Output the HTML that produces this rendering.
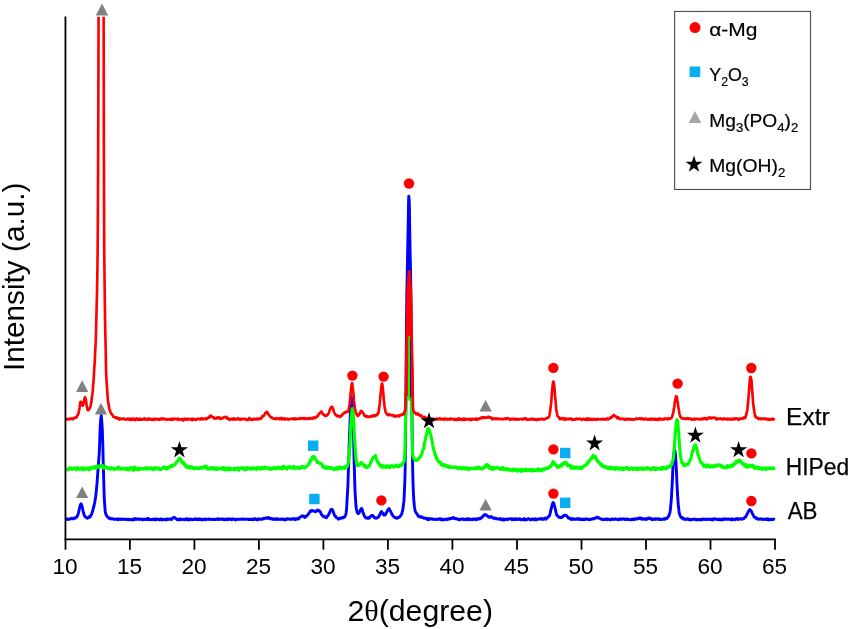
<!DOCTYPE html>
<html><head><meta charset="utf-8"><title>XRD patterns</title>
<style>html,body{margin:0;padding:0;background:#fff}svg{display:block}</style></head>
<body>
<svg width="851" height="629" viewBox="0 0 851 629">
<defs><clipPath id="c"><rect x="65.3" y="16.8" width="712" height="530"/></clipPath></defs>
<rect width="851" height="629" fill="#fff"/>
<g clip-path="url(#c)" fill="none" stroke-width="2.7" stroke-linejoin="round" stroke-linecap="round">
<polyline stroke="#0000ff" stroke-width="2.9" points="65.3,519.2 65.6,519.3 66.0,519.2 66.3,519.0 66.6,518.9 66.9,518.9 67.3,519.0 67.6,519.5 67.9,519.3 68.3,518.9 68.6,519.1 68.9,519.3 69.3,519.2 69.6,518.9 69.9,518.9 70.2,519.2 70.6,518.9 70.9,518.7 71.2,518.5 71.6,518.3 71.9,518.3 72.2,518.5 72.6,518.6 72.9,518.6 73.2,518.9 73.5,518.7 73.9,518.1 74.2,518.0 74.5,518.4 74.9,518.4 75.2,518.0 75.5,517.7 75.9,517.7 76.2,517.3 76.5,517.4 76.8,517.0 77.2,516.2 77.5,515.8 77.8,514.9 78.2,513.7 78.5,512.6 78.8,511.3 79.2,509.6 79.5,508.2 79.8,507.2 80.1,505.6 80.5,504.4 80.8,504.2 81.1,503.8 81.5,504.7 81.8,506.0 82.1,506.6 82.5,507.9 82.8,509.8 83.1,511.2 83.4,512.5 83.8,513.7 84.1,514.7 84.4,515.8 84.8,516.2 85.1,516.5 85.4,517.0 85.8,517.3 86.1,517.4 86.4,517.4 86.7,517.7 87.1,518.1 87.4,518.3 87.7,517.8 88.1,517.3 88.4,517.6 88.7,517.2 89.1,516.8 89.4,517.0 89.7,517.1 90.0,517.0 90.4,516.3 90.7,515.6 91.0,515.0 91.4,514.8 91.7,514.0 92.0,512.8 92.4,511.9 92.7,510.9 93.0,509.5 93.3,508.2 93.7,507.0 94.0,505.7 94.3,504.4 94.7,503.0 95.0,500.9 95.3,498.8 95.7,496.4 96.0,493.9 96.3,491.1 96.6,487.7 97.0,483.8 97.3,479.6 97.6,475.0 98.0,469.5 98.3,465.6 98.6,461.3 99.0,456.6 99.3,452.1 99.6,444.5 99.9,434.9 100.3,424.9 100.6,421.3 100.9,417.7 101.3,415.5 101.6,419.2 101.9,422.8 102.3,429.3 102.6,438.9 102.9,447.8 103.2,462.0 103.6,475.2 103.9,486.9 104.2,496.3 104.6,503.1 104.9,507.7 105.2,511.0 105.6,513.4 105.9,514.1 106.2,514.5 106.5,515.6 106.9,515.9 107.2,516.5 107.5,517.0 107.9,517.2 108.2,517.6 108.5,517.7 108.9,518.1 109.2,517.8 109.5,518.1 109.8,518.8 110.2,518.7 110.5,518.5 110.8,518.6 111.2,518.5 111.5,518.8 111.8,519.0 112.2,518.8 112.5,518.8 112.8,518.7 113.1,518.6 113.5,519.1 113.8,519.3 114.1,519.3 114.5,519.4 114.8,519.1 115.1,519.1 115.5,519.1 115.8,519.2 116.1,519.3 116.4,519.2 116.8,519.0 117.1,518.9 117.4,519.5 117.8,519.6 118.1,519.0 118.4,519.2 118.8,519.7 119.1,519.4 119.4,519.0 119.7,519.2 120.1,518.9 120.4,519.2 120.7,519.5 121.1,519.4 121.4,519.2 121.7,519.3 122.1,519.4 122.4,519.2 122.7,519.1 123.0,518.9 123.4,519.4 123.7,519.5 124.0,519.3 124.4,519.4 124.7,519.3 125.0,519.2 125.4,519.4 125.7,519.4 126.0,519.3 126.3,519.3 126.7,519.6 127.0,519.7 127.3,519.6 127.7,519.3 128.0,519.0 128.3,519.3 128.7,519.8 129.0,519.5 129.3,519.5 129.6,519.6 130.0,519.7 130.3,519.7 130.6,519.5 131.0,519.6 131.3,519.4 131.6,519.3 132.0,519.6 132.3,519.7 132.6,519.9 132.9,520.1 133.3,519.4 133.6,518.8 133.9,519.2 134.3,519.3 134.6,519.2 134.9,519.5 135.3,519.2 135.6,518.6 135.9,519.0 136.2,519.4 136.6,519.3 136.9,519.3 137.2,519.2 137.6,518.9 137.9,519.0 138.2,519.2 138.6,518.9 138.9,519.2 139.2,519.5 139.5,519.4 139.9,519.3 140.2,519.1 140.5,519.0 140.9,519.0 141.2,519.2 141.5,519.3 141.9,519.3 142.2,519.5 142.5,519.9 142.8,519.5 143.2,519.3 143.5,519.5 143.8,519.4 144.2,519.1 144.5,519.0 144.8,519.4 145.2,519.5 145.5,519.4 145.8,519.3 146.1,519.6 146.5,519.6 146.8,518.9 147.1,518.8 147.5,518.8 147.8,518.3 148.1,518.6 148.5,519.5 148.8,519.7 149.1,519.2 149.4,519.0 149.8,519.4 150.1,519.6 150.4,519.4 150.8,519.4 151.1,519.4 151.4,519.5 151.8,519.7 152.1,519.5 152.4,519.2 152.7,519.3 153.1,519.3 153.4,519.5 153.7,519.3 154.1,519.1 154.4,519.3 154.7,519.1 155.1,519.5 155.4,520.0 155.7,519.6 156.0,519.4 156.4,519.6 156.7,518.9 157.0,518.9 157.4,519.4 157.7,519.4 158.0,519.2 158.4,519.1 158.7,519.3 159.0,519.6 159.3,519.7 159.7,519.4 160.0,519.7 160.3,519.6 160.7,519.2 161.0,518.9 161.3,519.3 161.7,519.9 162.0,519.7 162.3,519.7 162.6,519.5 163.0,519.4 163.3,519.4 163.6,519.3 164.0,519.3 164.3,519.7 164.6,519.8 165.0,519.5 165.3,519.2 165.6,519.1 165.9,519.5 166.3,519.8 166.6,519.5 166.9,519.3 167.3,519.0 167.6,519.1 167.9,519.5 168.3,519.4 168.6,519.2 168.9,519.2 169.2,519.3 169.6,519.0 169.9,518.9 170.2,519.0 170.6,519.2 170.9,519.2 171.2,519.0 171.6,519.4 171.9,519.0 172.2,518.4 172.5,518.3 172.9,518.1 173.2,517.6 173.5,517.4 173.9,517.9 174.2,517.8 174.5,517.5 174.9,517.6 175.2,518.0 175.5,518.2 175.8,518.2 176.2,518.9 176.5,519.1 176.8,519.1 177.2,519.7 177.5,519.6 177.8,519.4 178.2,519.8 178.5,519.6 178.8,519.1 179.1,518.9 179.5,519.1 179.8,519.6 180.1,519.8 180.5,519.3 180.8,519.0 181.1,519.1 181.5,519.3 181.8,519.4 182.1,519.4 182.4,519.5 182.8,519.4 183.1,519.3 183.4,519.4 183.8,519.4 184.1,519.4 184.4,519.8 184.8,519.9 185.1,519.5 185.4,519.0 185.7,519.1 186.1,519.1 186.4,518.7 186.7,519.3 187.1,519.7 187.4,519.5 187.7,519.0 188.1,519.0 188.4,519.2 188.7,519.4 189.0,520.0 189.4,519.9 189.7,519.3 190.0,519.0 190.4,519.1 190.7,519.3 191.0,519.1 191.4,519.2 191.7,519.2 192.0,519.4 192.3,519.8 192.7,519.8 193.0,519.5 193.3,519.4 193.7,519.5 194.0,519.3 194.3,519.2 194.7,519.0 195.0,518.8 195.3,519.2 195.6,519.5 196.0,519.4 196.3,519.6 196.6,519.2 197.0,518.9 197.3,519.3 197.6,519.5 198.0,519.4 198.3,519.5 198.6,519.6 198.9,519.2 199.3,518.9 199.6,519.4 199.9,519.6 200.3,519.1 200.6,519.3 200.9,519.8 201.3,519.8 201.6,519.6 201.9,519.2 202.2,519.1 202.6,519.7 202.9,519.9 203.2,519.7 203.6,519.6 203.9,519.3 204.2,519.1 204.6,519.0 204.9,519.5 205.2,519.3 205.5,519.3 205.9,519.7 206.2,519.2 206.5,519.1 206.9,519.2 207.2,519.3 207.5,519.3 207.9,519.1 208.2,519.2 208.5,519.1 208.8,518.9 209.2,519.1 209.5,519.5 209.8,519.2 210.2,519.1 210.5,519.2 210.8,519.1 211.2,519.4 211.5,519.4 211.8,519.6 212.1,519.5 212.5,519.3 212.8,519.4 213.1,519.2 213.5,519.3 213.8,519.5 214.1,519.5 214.5,519.5 214.8,519.1 215.1,519.1 215.4,519.4 215.8,519.6 216.1,519.4 216.4,519.2 216.8,519.0 217.1,519.2 217.4,519.3 217.8,518.8 218.1,519.0 218.4,519.6 218.7,519.3 219.1,518.9 219.4,519.0 219.7,519.0 220.1,519.2 220.4,519.3 220.7,519.1 221.1,519.3 221.4,519.3 221.7,519.3 222.0,519.3 222.4,518.9 222.7,518.8 223.0,519.4 223.4,519.7 223.7,519.4 224.0,519.4 224.4,519.4 224.7,519.4 225.0,519.8 225.3,519.5 225.7,518.9 226.0,518.9 226.3,518.9 226.7,519.3 227.0,519.7 227.3,519.3 227.7,518.9 228.0,519.0 228.3,519.6 228.6,519.1 229.0,518.9 229.3,519.3 229.6,519.4 230.0,519.4 230.3,519.1 230.6,519.0 231.0,518.9 231.3,519.4 231.6,519.8 231.9,519.5 232.3,519.1 232.6,518.8 232.9,518.9 233.3,519.3 233.6,519.3 233.9,519.3 234.3,519.1 234.6,519.1 234.9,519.3 235.2,519.6 235.6,520.0 235.9,519.7 236.2,519.2 236.6,519.2 236.9,519.2 237.2,519.1 237.6,519.2 237.9,519.1 238.2,519.3 238.5,519.5 238.9,519.4 239.2,519.4 239.5,519.2 239.9,519.0 240.2,519.1 240.5,519.2 240.9,519.3 241.2,519.4 241.5,519.1 241.8,519.1 242.2,519.1 242.5,519.0 242.8,519.2 243.2,518.9 243.5,519.0 243.8,519.4 244.2,519.3 244.5,519.2 244.8,519.2 245.1,519.1 245.5,519.1 245.8,519.2 246.1,519.3 246.5,519.1 246.8,519.1 247.1,519.4 247.5,519.3 247.8,519.2 248.1,519.4 248.4,519.1 248.8,519.1 249.1,519.5 249.4,519.4 249.8,519.5 250.1,519.3 250.4,519.1 250.8,519.4 251.1,519.5 251.4,519.5 251.7,519.1 252.1,519.1 252.4,519.7 252.7,519.8 253.1,519.6 253.4,519.0 253.7,519.2 254.1,519.5 254.4,518.8 254.7,518.9 255.0,519.1 255.4,518.7 255.7,518.9 256.0,519.4 256.4,519.5 256.7,519.3 257.0,519.7 257.4,519.9 257.7,519.6 258.0,519.2 258.3,518.9 258.7,518.8 259.0,519.2 259.3,519.4 259.7,519.3 260.0,519.4 260.3,519.2 260.7,519.0 261.0,519.2 261.3,519.3 261.6,519.4 262.0,519.3 262.3,519.0 262.6,518.9 263.0,518.7 263.3,518.3 263.6,518.6 264.0,518.8 264.3,518.7 264.6,518.3 264.9,518.1 265.3,518.2 265.6,518.1 265.9,517.7 266.3,517.7 266.6,518.3 266.9,518.4 267.3,518.0 267.6,517.9 267.9,518.2 268.2,517.6 268.6,517.5 268.9,518.2 269.2,518.4 269.6,518.7 269.9,518.8 270.2,518.6 270.6,518.5 270.9,518.7 271.2,518.6 271.5,518.5 271.9,518.8 272.2,519.3 272.5,519.1 272.9,518.8 273.2,518.9 273.5,519.2 273.9,519.2 274.2,519.3 274.5,519.1 274.8,518.8 275.2,519.0 275.5,519.2 275.8,519.5 276.2,519.1 276.5,518.7 276.8,519.1 277.2,519.1 277.5,518.8 277.8,519.1 278.1,519.5 278.5,519.4 278.8,519.2 279.1,519.3 279.5,519.4 279.8,519.4 280.1,519.3 280.5,518.9 280.8,519.1 281.1,519.1 281.4,519.2 281.8,519.4 282.1,519.1 282.4,519.0 282.8,519.2 283.1,519.3 283.4,519.3 283.8,519.0 284.1,519.4 284.4,519.9 284.7,520.1 285.1,519.6 285.4,519.3 285.7,519.6 286.1,519.5 286.4,519.0 286.7,519.0 287.1,519.3 287.4,519.1 287.7,518.7 288.0,518.6 288.4,519.0 288.7,519.1 289.0,519.0 289.4,519.2 289.7,519.3 290.0,519.2 290.4,519.2 290.7,519.0 291.0,518.9 291.3,518.8 291.7,519.1 292.0,519.3 292.3,518.9 292.7,518.8 293.0,518.9 293.3,519.1 293.7,518.8 294.0,518.5 294.3,518.7 294.6,519.4 295.0,519.7 295.3,519.1 295.6,519.0 296.0,519.4 296.3,519.2 296.6,518.7 297.0,518.9 297.3,519.0 297.6,518.8 297.9,518.5 298.3,518.6 298.6,518.9 298.9,518.5 299.3,518.1 299.6,517.3 299.9,517.1 300.3,517.2 300.6,516.9 300.9,516.9 301.2,516.5 301.6,515.9 301.9,515.9 302.2,516.1 302.6,516.0 302.9,516.1 303.2,516.2 303.6,516.0 303.9,516.4 304.2,517.1 304.5,517.1 304.9,517.5 305.2,517.3 305.5,516.4 305.9,516.2 306.2,516.1 306.5,516.0 306.9,516.0 307.2,515.3 307.5,515.0 307.8,514.7 308.2,514.3 308.5,514.1 308.8,513.4 309.2,512.9 309.5,512.4 309.8,511.8 310.2,511.1 310.5,510.8 310.8,511.1 311.1,511.3 311.5,511.0 311.8,510.7 312.1,510.3 312.5,510.6 312.8,510.9 313.1,510.8 313.5,511.0 313.8,511.2 314.1,511.3 314.4,511.4 314.8,511.3 315.1,511.3 315.4,511.9 315.8,511.8 316.1,511.1 316.4,511.0 316.8,511.0 317.1,510.4 317.4,510.0 317.7,510.3 318.1,510.3 318.4,510.2 318.7,510.6 319.1,510.7 319.4,510.7 319.7,511.2 320.1,512.0 320.4,512.3 320.7,512.4 321.0,513.3 321.4,514.1 321.7,514.8 322.0,515.4 322.4,515.4 322.7,515.7 323.0,516.3 323.4,516.3 323.7,516.7 324.0,516.9 324.3,516.6 324.7,516.8 325.0,517.0 325.3,517.0 325.7,517.4 326.0,517.5 326.3,517.7 326.7,517.5 327.0,516.6 327.3,516.3 327.6,516.1 328.0,515.5 328.3,515.3 328.6,514.8 329.0,513.6 329.3,513.1 329.6,512.7 330.0,511.7 330.3,511.0 330.6,510.3 330.9,509.6 331.3,509.4 331.6,509.3 331.9,509.3 332.3,509.8 332.6,510.0 332.9,510.7 333.3,511.8 333.6,512.8 333.9,513.4 334.2,514.5 334.6,515.5 334.9,515.6 335.2,515.8 335.6,516.4 335.9,517.1 336.2,517.4 336.6,517.7 336.9,517.9 337.2,518.1 337.5,518.3 337.9,518.2 338.2,518.6 338.5,519.2 338.9,518.8 339.2,518.2 339.5,518.2 339.9,518.5 340.2,518.4 340.5,518.1 340.8,518.3 341.2,518.2 341.5,518.0 341.8,518.0 342.2,517.7 342.5,517.4 342.8,517.6 343.2,517.8 343.5,517.7 343.8,517.2 344.1,516.9 344.5,517.0 344.8,516.8 345.1,516.1 345.5,515.3 345.8,514.5 346.1,512.8 346.5,510.0 346.8,505.5 347.1,499.4 347.4,494.4 347.8,487.9 348.1,479.7 348.4,470.4 348.8,460.3 349.1,447.9 349.4,437.0 349.8,429.0 350.1,419.4 350.4,412.3 350.7,405.2 351.1,401.2 351.4,397.2 351.7,398.4 352.1,402.1 352.4,408.4 352.7,415.5 353.1,423.7 353.4,432.4 353.7,440.8 354.0,456.8 354.4,469.8 354.7,481.6 355.0,490.7 355.4,497.2 355.7,502.0 356.0,506.0 356.4,508.7 356.7,510.1 357.0,511.6 357.3,512.7 357.7,513.2 358.0,513.6 358.3,513.6 358.7,513.3 359.0,513.0 359.3,512.3 359.7,511.7 360.0,511.4 360.3,510.5 360.6,509.5 361.0,509.2 361.3,508.6 361.6,508.5 362.0,508.8 362.3,509.8 362.6,511.4 363.0,512.6 363.3,513.2 363.6,513.9 363.9,514.9 364.3,515.6 364.6,516.5 364.9,516.7 365.3,517.0 365.6,517.6 365.9,517.9 366.3,518.1 366.6,517.9 366.9,518.0 367.2,518.3 367.6,518.3 367.9,518.3 368.2,518.1 368.6,517.5 368.9,517.7 369.2,518.1 369.6,517.7 369.9,517.3 370.2,517.1 370.5,516.6 370.9,515.9 371.2,515.6 371.5,515.7 371.9,515.4 372.2,515.4 372.5,515.7 372.9,515.5 373.2,516.2 373.5,516.8 373.8,516.6 374.2,516.9 374.5,517.6 374.8,518.1 375.2,518.0 375.5,518.0 375.8,518.3 376.2,518.1 376.5,518.0 376.8,518.1 377.1,517.8 377.5,517.6 377.8,517.5 378.1,517.3 378.5,516.8 378.8,516.2 379.1,515.9 379.5,515.4 379.8,514.6 380.1,514.0 380.4,513.2 380.8,512.7 381.1,512.0 381.4,511.5 381.8,511.7 382.1,512.3 382.4,513.2 382.8,513.1 383.1,513.1 383.4,514.2 383.7,514.9 384.1,515.2 384.4,515.1 384.7,515.0 385.1,515.0 385.4,514.6 385.7,514.3 386.1,513.3 386.4,512.6 386.7,512.2 387.0,511.6 387.4,511.1 387.7,510.1 388.0,509.7 388.4,509.3 388.7,508.8 389.0,508.6 389.4,508.9 389.7,509.7 390.0,510.4 390.3,510.8 390.7,511.5 391.0,512.3 391.3,512.8 391.7,513.6 392.0,514.5 392.3,514.9 392.7,515.2 393.0,515.7 393.3,516.2 393.6,516.4 394.0,516.9 394.3,517.3 394.6,517.4 395.0,517.4 395.3,517.5 395.6,517.9 396.0,517.8 396.3,518.1 396.6,518.3 396.9,518.2 397.3,518.3 397.6,517.8 397.9,517.4 398.3,517.6 398.6,517.5 398.9,517.4 399.3,517.2 399.6,516.7 399.9,516.5 400.2,516.1 400.6,515.7 400.9,515.5 401.2,514.7 401.6,514.2 401.9,513.5 402.2,512.2 402.6,510.5 402.9,509.1 403.2,506.8 403.5,504.1 403.9,501.5 404.2,496.1 404.5,489.0 404.9,479.7 405.2,466.7 405.5,438.2 405.9,401.7 406.2,360.2 406.5,322.2 406.8,294.4 407.2,276.1 407.5,259.1 407.8,242.7 408.2,223.5 408.5,206.3 408.8,196.1 409.2,202.2 409.5,214.8 409.8,234.3 410.1,252.5 410.5,268.4 410.8,286.4 411.1,303.5 411.5,344.5 411.8,383.6 412.1,423.1 412.5,459.4 412.8,474.9 413.1,485.2 413.4,493.1 413.8,499.6 414.1,503.5 414.4,506.2 414.8,509.0 415.1,510.8 415.4,511.6 415.8,512.1 416.1,512.7 416.4,513.2 416.7,513.5 417.1,514.1 417.4,514.8 417.7,515.1 418.1,515.9 418.4,516.3 418.7,516.0 419.1,516.2 419.4,516.9 419.7,516.8 420.0,516.5 420.4,516.8 420.7,516.8 421.0,517.2 421.4,517.2 421.7,516.7 422.0,517.3 422.4,517.6 422.7,517.7 423.0,517.9 423.3,517.9 423.7,518.2 424.0,517.9 424.3,517.8 424.7,518.1 425.0,518.2 425.3,518.5 425.7,518.3 426.0,518.2 426.3,518.6 426.6,518.8 427.0,518.6 427.3,518.9 427.6,519.6 428.0,518.9 428.3,518.5 428.6,519.4 429.0,519.5 429.3,519.1 429.6,518.9 429.9,518.8 430.3,518.8 430.6,518.8 430.9,519.0 431.3,519.1 431.6,518.9 431.9,518.7 432.3,518.8 432.6,518.9 432.9,518.9 433.2,519.3 433.6,519.5 433.9,519.4 434.2,519.4 434.6,519.3 434.9,519.3 435.2,519.2 435.6,519.4 435.9,519.3 436.2,519.4 436.5,519.6 436.9,519.2 437.2,519.1 437.5,519.1 437.9,519.2 438.2,519.2 438.5,519.4 438.9,519.4 439.2,518.7 439.5,518.7 439.8,518.8 440.2,518.9 440.5,519.5 440.8,519.7 441.2,519.2 441.5,518.9 441.8,519.5 442.2,519.7 442.5,519.4 442.8,519.5 443.1,520.0 443.5,520.1 443.8,519.6 444.1,519.4 444.5,519.5 444.8,519.3 445.1,519.0 445.5,519.1 445.8,519.1 446.1,519.1 446.4,519.3 446.8,519.7 447.1,519.5 447.4,519.0 447.8,519.1 448.1,519.2 448.4,519.4 448.8,519.2 449.1,518.8 449.4,518.5 449.7,518.4 450.1,518.8 450.4,518.9 450.7,518.5 451.1,518.3 451.4,518.4 451.7,518.5 452.1,518.3 452.4,518.0 452.7,517.7 453.0,517.5 453.4,518.3 453.7,518.1 454.0,517.8 454.4,518.4 454.7,518.5 455.0,518.4 455.4,518.5 455.7,518.8 456.0,518.9 456.3,518.6 456.7,518.6 457.0,518.9 457.3,518.8 457.7,519.1 458.0,519.4 458.3,519.5 458.7,519.3 459.0,519.3 459.3,519.7 459.6,519.7 460.0,519.8 460.3,519.5 460.6,519.2 461.0,519.4 461.3,519.2 461.6,519.0 462.0,519.2 462.3,519.1 462.6,518.9 462.9,518.8 463.3,519.1 463.6,519.5 463.9,519.7 464.3,519.5 464.6,519.2 464.9,519.1 465.3,519.2 465.6,519.3 465.9,519.4 466.2,519.8 466.6,519.6 466.9,519.0 467.2,518.8 467.6,518.8 467.9,518.7 468.2,519.3 468.6,519.6 468.9,519.0 469.2,519.1 469.5,519.7 469.9,519.4 470.2,519.1 470.5,519.1 470.9,519.2 471.2,519.4 471.5,519.6 471.9,519.7 472.2,519.7 472.5,519.7 472.8,519.6 473.2,519.0 473.5,518.9 473.8,519.2 474.2,519.2 474.5,519.3 474.8,519.3 475.2,518.9 475.5,519.3 475.8,519.6 476.1,519.3 476.5,519.3 476.8,519.5 477.1,519.4 477.5,518.6 477.8,518.4 478.1,518.8 478.5,518.7 478.8,518.8 479.1,519.1 479.4,518.9 479.8,518.4 480.1,518.8 480.4,518.8 480.8,518.0 481.1,517.9 481.4,518.0 481.8,517.6 482.1,517.4 482.4,517.0 482.7,516.3 483.1,516.0 483.4,516.0 483.7,515.4 484.1,514.9 484.4,514.7 484.7,515.0 485.1,514.8 485.4,514.5 485.7,514.8 486.0,514.7 486.4,515.1 486.7,515.6 487.0,516.0 487.4,516.2 487.7,516.1 488.0,516.1 488.4,516.5 488.7,516.8 489.0,517.1 489.3,517.2 489.7,517.1 490.0,517.4 490.3,517.2 490.7,516.7 491.0,516.5 491.3,516.5 491.7,517.1 492.0,517.4 492.3,517.4 492.6,517.8 493.0,518.0 493.3,518.2 493.6,517.9 494.0,517.8 494.3,518.0 494.6,518.2 495.0,518.2 495.3,518.2 495.6,518.7 495.9,518.5 496.3,518.3 496.6,518.5 496.9,518.6 497.3,519.0 497.6,519.0 497.9,519.1 498.3,518.8 498.6,518.9 498.9,519.1 499.2,519.1 499.6,519.2 499.9,518.6 500.2,518.5 500.6,519.0 500.9,519.5 501.2,519.5 501.6,519.3 501.9,519.0 502.2,519.2 502.5,519.9 502.9,519.6 503.2,519.2 503.5,518.9 503.9,519.1 504.2,520.0 504.5,519.9 504.9,519.6 505.2,519.6 505.5,519.2 505.8,519.3 506.2,519.3 506.5,519.0 506.8,519.3 507.2,519.5 507.5,519.5 507.8,519.4 508.2,519.2 508.5,518.9 508.8,519.0 509.1,519.2 509.5,518.9 509.8,518.8 510.1,518.9 510.5,518.8 510.8,518.7 511.1,518.7 511.5,519.0 511.8,519.4 512.1,519.8 512.4,519.4 512.8,518.9 513.1,519.3 513.4,519.4 513.8,519.2 514.1,519.6 514.4,519.6 514.8,519.0 515.1,518.8 515.4,519.1 515.7,519.4 516.1,519.1 516.4,518.8 516.7,519.2 517.1,519.5 517.4,519.3 517.7,519.3 518.1,519.5 518.4,519.1 518.7,518.9 519.0,519.3 519.4,519.3 519.7,518.8 520.0,518.8 520.4,519.4 520.7,519.8 521.0,519.2 521.4,519.4 521.7,519.6 522.0,519.3 522.3,519.7 522.7,519.7 523.0,519.5 523.3,519.1 523.7,519.2 524.0,519.3 524.3,518.6 524.7,519.4 525.0,520.0 525.3,519.8 525.6,519.5 526.0,519.4 526.3,519.9 526.6,519.9 527.0,519.6 527.3,519.0 527.6,519.0 528.0,518.8 528.3,518.5 528.6,519.0 528.9,519.1 529.3,519.0 529.6,519.2 529.9,519.6 530.3,519.9 530.6,519.5 530.9,519.5 531.3,519.3 531.6,519.0 531.9,519.4 532.2,519.2 532.6,518.9 532.9,518.9 533.2,519.0 533.6,519.6 533.9,519.4 534.2,519.1 534.6,519.1 534.9,518.8 535.2,518.7 535.5,519.2 535.9,520.0 536.2,519.8 536.5,519.1 536.9,519.2 537.2,519.2 537.5,519.2 537.9,519.4 538.2,519.2 538.5,519.3 538.8,519.1 539.2,518.9 539.5,518.7 539.8,518.6 540.2,518.7 540.5,518.7 540.8,518.8 541.2,518.8 541.5,519.1 541.8,518.8 542.1,518.5 542.5,518.6 542.8,518.9 543.1,519.4 543.5,519.3 543.8,518.9 544.1,519.0 544.5,518.7 544.8,518.7 545.1,518.8 545.4,517.9 545.8,518.4 546.1,519.2 546.4,518.4 546.8,518.0 547.1,518.0 547.4,517.8 547.8,517.3 548.1,516.8 548.4,516.8 548.7,516.6 549.1,516.1 549.4,515.4 549.7,514.8 550.1,513.6 550.4,512.1 550.7,510.6 551.1,508.9 551.4,508.2 551.7,506.8 552.0,505.3 552.4,504.3 552.7,503.1 553.0,502.5 553.4,502.7 553.7,503.1 554.0,504.2 554.4,505.6 554.7,506.7 555.0,507.8 555.3,509.4 555.7,510.9 556.0,512.3 556.3,513.9 556.7,514.9 557.0,515.1 557.3,515.6 557.7,516.0 558.0,516.3 558.3,516.6 558.6,516.9 559.0,517.2 559.3,517.5 559.6,517.6 560.0,517.4 560.3,517.2 560.6,517.5 561.0,517.7 561.3,517.6 561.6,517.5 561.9,517.3 562.3,516.8 562.6,516.4 562.9,516.8 563.3,516.1 563.6,515.6 563.9,515.9 564.3,515.6 564.6,515.3 564.9,515.4 565.2,515.2 565.6,515.1 565.9,515.3 566.2,515.3 566.6,515.6 566.9,516.0 567.2,516.5 567.6,516.9 567.9,516.9 568.2,517.4 568.5,518.2 568.9,518.2 569.2,518.1 569.5,518.1 569.9,518.4 570.2,518.7 570.5,518.3 570.9,518.5 571.2,519.5 571.5,519.0 571.8,518.7 572.2,519.2 572.5,519.0 572.8,519.2 573.2,519.0 573.5,518.8 573.8,519.4 574.2,519.3 574.5,519.0 574.8,519.0 575.1,519.0 575.5,519.4 575.8,519.3 576.1,519.1 576.5,519.1 576.8,519.0 577.1,519.3 577.5,518.6 577.8,518.7 578.1,519.0 578.4,518.9 578.8,519.4 579.1,519.3 579.4,518.8 579.8,519.3 580.1,519.5 580.4,519.6 580.8,519.6 581.1,519.1 581.4,519.0 581.7,519.5 582.1,519.7 582.4,519.4 582.7,519.3 583.1,519.2 583.4,519.1 583.7,519.5 584.1,519.7 584.4,519.0 584.7,518.9 585.0,519.3 585.4,519.6 585.7,519.4 586.0,519.1 586.4,519.1 586.7,518.9 587.0,518.7 587.4,519.2 587.7,519.3 588.0,519.2 588.3,519.6 588.7,519.6 589.0,519.4 589.3,519.7 589.7,519.8 590.0,519.3 590.3,519.3 590.7,519.5 591.0,519.1 591.3,519.1 591.6,519.2 592.0,518.7 592.3,518.7 592.6,519.0 593.0,518.9 593.3,518.6 593.6,518.5 594.0,518.8 594.3,518.7 594.6,518.3 594.9,518.3 595.3,518.0 595.6,517.7 595.9,518.0 596.3,517.7 596.6,517.2 596.9,517.5 597.3,517.5 597.6,517.3 597.9,517.6 598.2,518.1 598.6,517.8 598.9,517.7 599.2,518.1 599.6,518.2 599.9,518.4 600.2,518.6 600.6,518.9 600.9,519.0 601.2,519.0 601.5,519.3 601.9,519.1 602.2,519.1 602.5,519.6 602.9,519.7 603.2,519.2 603.5,519.1 603.9,519.1 604.2,519.2 604.5,519.5 604.8,519.3 605.2,519.1 605.5,519.5 605.8,519.4 606.2,519.3 606.5,519.1 606.8,518.9 607.2,519.1 607.5,519.7 607.8,519.7 608.1,519.1 608.5,519.1 608.8,519.2 609.1,519.4 609.5,519.5 609.8,519.8 610.1,519.8 610.5,519.7 610.8,519.7 611.1,519.5 611.4,519.2 611.8,519.0 612.1,519.3 612.4,519.3 612.8,518.9 613.1,519.1 613.4,519.4 613.8,519.2 614.1,519.2 614.4,519.3 614.7,519.4 615.1,519.2 615.4,518.9 615.7,519.2 616.1,519.4 616.4,519.3 616.7,519.2 617.1,519.1 617.4,519.2 617.7,519.6 618.0,519.4 618.4,519.5 618.7,519.8 619.0,519.4 619.4,519.4 619.7,519.2 620.0,518.7 620.4,518.8 620.7,519.0 621.0,519.2 621.3,519.2 621.7,519.3 622.0,519.0 622.3,519.0 622.7,519.2 623.0,518.9 623.3,519.1 623.7,519.0 624.0,518.9 624.3,518.9 624.6,519.2 625.0,519.5 625.3,519.6 625.6,519.3 626.0,519.0 626.3,519.0 626.6,519.3 627.0,519.0 627.3,519.2 627.6,519.5 627.9,519.1 628.3,519.3 628.6,519.6 628.9,519.6 629.3,519.6 629.6,519.6 629.9,519.6 630.3,519.8 630.6,519.6 630.9,519.6 631.2,519.7 631.6,519.4 631.9,519.2 632.2,519.1 632.6,519.4 632.9,519.2 633.2,519.2 633.6,519.5 633.9,519.4 634.2,518.9 634.5,518.8 634.9,519.4 635.2,519.2 635.5,519.1 635.9,518.8 636.2,518.8 636.5,519.1 636.9,519.1 637.2,518.8 637.5,518.7 637.8,518.9 638.2,518.8 638.5,518.5 638.8,518.1 639.2,518.6 639.5,518.5 639.8,517.9 640.2,518.0 640.5,517.9 640.8,518.3 641.1,519.0 641.5,518.7 641.8,518.2 642.1,518.7 642.5,519.3 642.8,519.4 643.1,519.4 643.5,519.1 643.8,518.9 644.1,518.8 644.4,518.6 644.8,519.1 645.1,519.2 645.4,519.4 645.8,519.5 646.1,518.9 646.4,518.9 646.8,519.3 647.1,519.2 647.4,518.4 647.7,518.3 648.1,518.7 648.4,518.4 648.7,517.9 649.1,518.2 649.4,518.4 649.7,518.1 650.1,518.1 650.4,518.3 650.7,518.6 651.0,518.9 651.4,519.1 651.7,519.4 652.0,518.9 652.4,518.9 652.7,519.4 653.0,519.5 653.4,519.5 653.7,519.4 654.0,519.0 654.3,519.3 654.7,519.3 655.0,518.7 655.3,519.1 655.7,519.4 656.0,519.1 656.3,519.0 656.7,518.8 657.0,518.8 657.3,519.0 657.6,519.3 658.0,519.0 658.3,519.0 658.6,519.3 659.0,518.9 659.3,519.3 659.6,519.5 660.0,519.0 660.3,519.4 660.6,519.6 660.9,519.2 661.3,519.4 661.6,519.6 661.9,519.4 662.3,519.3 662.6,519.2 662.9,519.2 663.3,519.1 663.6,518.8 663.9,519.3 664.2,519.3 664.6,518.9 664.9,519.3 665.2,519.2 665.6,518.5 665.9,518.4 666.2,518.2 666.6,518.1 666.9,518.4 667.2,517.9 667.5,517.3 667.9,517.2 668.2,517.0 668.5,516.3 668.9,515.7 669.2,514.8 669.5,513.7 669.9,512.9 670.2,510.9 670.5,508.5 670.8,505.0 671.2,501.1 671.5,496.6 671.8,490.5 672.2,484.0 672.5,477.3 672.8,469.8 673.2,463.0 673.5,458.1 673.8,453.5 674.1,451.9 674.5,450.1 674.8,450.3 675.1,451.7 675.5,454.5 675.8,459.9 676.1,464.7 676.5,472.4 676.8,479.9 677.1,486.4 677.4,492.7 677.8,498.2 678.1,502.5 678.4,506.3 678.8,509.3 679.1,511.9 679.4,513.6 679.8,514.7 680.1,515.6 680.4,516.2 680.7,516.8 681.1,517.1 681.4,517.8 681.7,518.0 682.1,517.5 682.4,517.6 682.7,518.0 683.1,518.7 683.4,519.0 683.7,518.9 684.0,518.7 684.4,518.7 684.7,519.1 685.0,519.4 685.4,519.2 685.7,519.0 686.0,519.3 686.4,519.0 686.7,519.0 687.0,519.1 687.3,518.7 687.7,518.9 688.0,519.5 688.3,519.4 688.7,519.0 689.0,519.4 689.3,519.7 689.7,519.6 690.0,519.9 690.3,519.6 690.6,519.4 691.0,519.5 691.3,519.3 691.6,519.3 692.0,519.4 692.3,519.6 692.6,519.6 693.0,519.4 693.3,519.3 693.6,519.4 693.9,519.3 694.3,519.1 694.6,519.3 694.9,519.3 695.3,519.2 695.6,519.2 695.9,519.7 696.3,520.0 696.6,519.7 696.9,519.5 697.2,519.8 697.6,519.9 697.9,519.4 698.2,519.4 698.6,519.5 698.9,519.7 699.2,519.7 699.6,519.8 699.9,519.6 700.2,519.3 700.5,519.3 700.9,519.5 701.2,519.7 701.5,519.3 701.9,519.5 702.2,519.8 702.5,519.4 702.9,519.1 703.2,519.0 703.5,519.1 703.8,519.4 704.2,519.3 704.5,519.2 704.8,519.2 705.2,519.1 705.5,519.3 705.8,519.8 706.2,519.3 706.5,519.0 706.8,519.3 707.1,519.4 707.5,519.3 707.8,519.1 708.1,519.1 708.5,519.3 708.8,519.5 709.1,519.4 709.5,519.4 709.8,519.4 710.1,519.0 710.4,519.2 710.8,519.5 711.1,519.4 711.4,519.5 711.8,519.8 712.1,519.4 712.4,519.0 712.8,519.5 713.1,520.0 713.4,519.5 713.7,519.0 714.1,519.0 714.4,519.1 714.7,518.9 715.1,519.0 715.4,519.1 715.7,518.9 716.1,519.3 716.4,519.4 716.7,519.2 717.0,519.5 717.4,519.6 717.7,519.4 718.0,519.3 718.4,519.2 718.7,519.5 719.0,519.8 719.4,519.3 719.7,519.1 720.0,519.5 720.3,519.6 720.7,519.8 721.0,520.0 721.3,519.5 721.7,519.2 722.0,519.1 722.3,519.1 722.7,519.4 723.0,519.9 723.3,519.9 723.6,518.9 724.0,518.8 724.3,519.2 724.6,519.1 725.0,518.9 725.3,519.1 725.6,519.3 726.0,519.4 726.3,519.1 726.6,519.3 726.9,519.4 727.3,519.1 727.6,518.9 727.9,518.9 728.3,519.3 728.6,519.1 728.9,519.0 729.3,519.4 729.6,519.4 729.9,519.3 730.2,519.1 730.6,519.3 730.9,519.8 731.2,519.5 731.6,519.0 731.9,518.7 732.2,519.2 732.6,519.8 732.9,519.7 733.2,519.6 733.5,519.4 733.9,519.1 734.2,519.2 734.5,519.3 734.9,519.0 735.2,519.1 735.5,519.7 735.9,519.2 736.2,518.7 736.5,519.0 736.8,519.1 737.2,518.5 737.5,518.8 737.8,519.3 738.2,519.0 738.5,519.4 738.8,519.5 739.2,518.9 739.5,518.9 739.8,518.8 740.1,518.6 740.5,518.9 740.8,518.9 741.1,518.7 741.5,519.1 741.8,519.3 742.1,519.1 742.5,519.0 742.8,518.8 743.1,518.9 743.4,518.7 743.8,518.6 744.1,518.3 744.4,517.6 744.8,517.3 745.1,517.0 745.4,517.0 745.8,517.0 746.1,516.3 746.4,515.5 746.7,515.0 747.1,514.3 747.4,513.5 747.7,512.9 748.1,512.1 748.4,511.5 748.7,511.2 749.1,510.5 749.4,509.9 749.7,509.5 750.0,510.0 750.4,510.1 750.7,510.4 751.0,511.2 751.4,511.4 751.7,511.7 752.0,512.7 752.4,513.9 752.7,514.2 753.0,514.4 753.3,515.4 753.7,516.1 754.0,516.8 754.3,517.0 754.7,517.1 755.0,517.3 755.3,517.9 755.7,518.2 756.0,517.6 756.3,517.8 756.6,518.4 757.0,518.9 757.3,518.9 757.6,518.6 758.0,518.9 758.3,519.3 758.6,519.2 759.0,519.1 759.3,519.3 759.6,519.0 759.9,519.0 760.3,519.0 760.6,518.9 760.9,519.1 761.3,519.0 761.6,519.1 761.9,519.5 762.3,519.3 762.6,519.0 762.9,519.0 763.2,519.2 763.6,519.4 763.9,519.4 764.2,519.5 764.6,519.3 764.9,519.1 765.2,519.0 765.6,519.1 765.9,519.4 766.2,519.2 766.5,519.4 766.9,519.6 767.2,518.8 767.5,518.7 767.9,519.0 768.2,519.2 768.5,520.0 768.9,519.7 769.2,519.2 769.5,519.3 769.8,519.3 770.2,519.5 770.5,519.7 770.8,519.4 771.2,519.4 771.5,519.4 771.8,519.2 772.2,519.6 772.5,519.7 772.8,519.3 773.1,519.0 773.5,519.1 773.8,519.2"/>
<line x1="409" y1="199" x2="409" y2="347" stroke="#0000ff" stroke-width="2.6"/>
<polyline stroke="#00ff00" stroke-width="3.1" points="65.3,469.0 65.6,469.3 66.0,469.3 66.3,469.2 66.6,469.6 66.9,469.6 67.3,469.4 67.6,469.4 67.9,469.7 68.3,468.8 68.6,468.6 68.9,469.2 69.3,468.6 69.6,468.3 69.9,467.7 70.2,467.9 70.6,468.4 70.9,468.7 71.2,468.4 71.6,468.8 71.9,469.5 72.2,468.8 72.6,468.4 72.9,468.2 73.2,468.1 73.5,468.2 73.9,468.6 74.2,468.7 74.5,468.2 74.9,468.1 75.2,468.3 75.5,468.5 75.9,469.6 76.2,469.8 76.5,468.9 76.8,468.0 77.2,467.6 77.5,467.6 77.8,468.4 78.2,468.8 78.5,468.5 78.8,468.6 79.2,468.6 79.5,469.3 79.8,469.0 80.1,468.4 80.5,468.3 80.8,468.8 81.1,468.7 81.5,467.9 81.8,467.8 82.1,467.6 82.5,468.4 82.8,469.9 83.1,469.3 83.4,468.7 83.8,469.2 84.1,468.4 84.4,468.2 84.8,468.5 85.1,468.3 85.4,469.2 85.8,468.7 86.1,468.1 86.4,468.9 86.7,468.5 87.1,468.4 87.4,469.0 87.7,469.0 88.1,468.8 88.4,469.0 88.7,468.0 89.1,468.3 89.4,469.9 89.7,469.7 90.0,469.2 90.4,468.2 90.7,467.7 91.0,467.9 91.4,467.7 91.7,468.3 92.0,468.2 92.4,467.7 92.7,467.2 93.0,467.1 93.3,467.8 93.7,467.5 94.0,467.1 94.3,468.0 94.7,467.7 95.0,466.5 95.3,466.5 95.7,467.3 96.0,468.3 96.3,467.8 96.6,466.6 97.0,466.2 97.3,466.7 97.6,466.4 98.0,466.4 98.3,467.2 98.6,466.6 99.0,466.2 99.3,466.4 99.6,466.8 99.9,466.0 100.3,465.9 100.6,466.2 100.9,465.5 101.3,465.8 101.6,466.1 101.9,465.7 102.3,465.3 102.6,465.4 102.9,466.8 103.2,468.0 103.6,467.8 103.9,467.7 104.2,467.3 104.6,467.0 104.9,467.4 105.2,467.1 105.6,466.7 105.9,467.3 106.2,467.6 106.5,467.3 106.9,467.6 107.2,468.0 107.5,468.3 107.9,468.5 108.2,468.0 108.5,468.2 108.9,468.3 109.2,468.0 109.5,467.9 109.8,468.5 110.2,469.0 110.5,469.2 110.8,468.3 111.2,467.7 111.5,468.2 111.8,468.4 112.2,468.4 112.5,468.2 112.8,468.7 113.1,469.0 113.5,468.2 113.8,468.7 114.1,469.5 114.5,468.8 114.8,468.7 115.1,468.7 115.5,468.8 115.8,469.0 116.1,468.3 116.4,468.2 116.8,468.2 117.1,468.5 117.4,468.8 117.8,468.8 118.1,468.5 118.4,467.1 118.8,467.3 119.1,468.0 119.4,468.1 119.7,469.3 120.1,469.3 120.4,468.7 120.7,468.5 121.1,468.6 121.4,468.5 121.7,468.3 122.1,468.1 122.4,468.8 122.7,469.2 123.0,469.1 123.4,469.0 123.7,468.7 124.0,468.7 124.4,468.9 124.7,469.2 125.0,469.2 125.4,468.6 125.7,468.2 126.0,469.1 126.3,469.3 126.7,468.5 127.0,469.2 127.3,469.7 127.7,469.4 128.0,468.8 128.3,469.5 128.7,469.8 129.0,469.1 129.3,468.9 129.6,468.1 130.0,467.7 130.3,468.4 130.6,469.1 131.0,468.8 131.3,468.2 131.6,467.7 132.0,468.1 132.3,468.1 132.6,468.5 132.9,469.5 133.3,470.3 133.6,470.2 133.9,468.9 134.3,468.2 134.6,467.1 134.9,467.2 135.3,468.4 135.6,469.1 135.9,469.4 136.2,469.2 136.6,469.1 136.9,469.1 137.2,469.6 137.6,468.9 137.9,468.1 138.2,468.0 138.6,468.8 138.9,469.9 139.2,469.5 139.5,468.6 139.9,468.3 140.2,468.7 140.5,468.7 140.9,468.7 141.2,468.8 141.5,468.8 141.9,468.9 142.2,469.1 142.5,468.7 142.8,468.6 143.2,468.5 143.5,468.9 143.8,468.9 144.2,468.7 144.5,468.7 144.8,468.0 145.2,468.5 145.5,468.6 145.8,468.5 146.1,469.1 146.5,468.2 146.8,467.7 147.1,468.1 147.5,468.2 147.8,467.9 148.1,468.5 148.5,468.9 148.8,468.7 149.1,468.6 149.4,468.6 149.8,468.5 150.1,468.3 150.4,468.9 150.8,468.9 151.1,468.5 151.4,468.0 151.8,468.3 152.1,468.8 152.4,468.6 152.7,468.2 153.1,468.5 153.4,469.8 153.7,469.4 154.1,468.6 154.4,468.8 154.7,467.7 155.1,467.6 155.4,468.3 155.7,468.8 156.0,469.0 156.4,468.1 156.7,468.1 157.0,468.5 157.4,468.3 157.7,468.2 158.0,467.9 158.4,467.8 158.7,468.7 159.0,469.5 159.3,469.5 159.7,468.8 160.0,469.0 160.3,469.2 160.7,469.4 161.0,469.4 161.3,468.7 161.7,468.4 162.0,468.5 162.3,468.5 162.6,468.4 163.0,468.0 163.3,467.1 163.6,467.1 164.0,467.1 164.3,467.3 164.6,468.1 165.0,467.4 165.3,467.6 165.6,468.6 165.9,468.3 166.3,468.6 166.6,469.2 166.9,468.1 167.3,467.7 167.6,468.3 167.9,468.0 168.3,468.1 168.6,467.6 168.9,466.9 169.2,466.8 169.6,466.7 169.9,466.8 170.2,466.5 170.6,466.0 170.9,466.7 171.2,466.9 171.6,466.7 171.9,465.8 172.2,465.2 172.5,465.5 172.9,465.7 173.2,465.4 173.5,465.5 173.9,465.5 174.2,464.8 174.5,464.5 174.9,464.5 175.2,463.9 175.5,463.6 175.8,463.6 176.2,462.7 176.5,462.1 176.8,461.7 177.2,461.6 177.5,461.3 177.8,460.6 178.2,460.1 178.5,459.7 178.8,459.6 179.1,459.3 179.5,458.0 179.8,458.6 180.1,459.7 180.5,459.0 180.8,459.3 181.1,459.8 181.5,461.2 181.8,462.2 182.1,461.3 182.4,461.8 182.8,462.8 183.1,463.7 183.4,463.9 183.8,462.7 184.1,463.5 184.4,464.6 184.8,464.7 185.1,464.2 185.4,464.8 185.7,466.5 186.1,465.8 186.4,465.8 186.7,466.5 187.1,467.2 187.4,467.7 187.7,466.8 188.1,467.2 188.4,467.6 188.7,467.1 189.0,467.2 189.4,467.4 189.7,466.5 190.0,467.5 190.4,468.2 190.7,467.2 191.0,467.5 191.4,467.2 191.7,466.6 192.0,467.0 192.3,467.4 192.7,467.7 193.0,468.4 193.3,468.2 193.7,468.0 194.0,468.4 194.3,467.8 194.7,467.7 195.0,467.8 195.3,468.1 195.6,468.7 196.0,468.3 196.3,467.6 196.6,467.7 197.0,467.9 197.3,468.1 197.6,468.4 198.0,467.8 198.3,468.2 198.6,468.8 198.9,468.2 199.3,468.3 199.6,468.4 199.9,467.7 200.3,467.8 200.6,467.6 200.9,467.2 201.3,467.3 201.6,468.0 201.9,468.5 202.2,467.6 202.6,467.5 202.9,467.4 203.2,466.8 203.6,467.1 203.9,467.0 204.2,467.6 204.6,467.7 204.9,466.4 205.2,467.0 205.5,467.4 205.9,467.0 206.2,466.2 206.5,466.8 206.9,468.5 207.2,468.5 207.5,468.7 207.9,469.1 208.2,468.8 208.5,468.6 208.8,468.4 209.2,467.9 209.5,468.7 209.8,469.0 210.2,468.1 210.5,468.1 210.8,468.6 211.2,468.1 211.5,468.4 211.8,468.6 212.1,467.8 212.5,467.5 212.8,468.8 213.1,468.7 213.5,468.1 213.8,468.9 214.1,469.1 214.5,468.4 214.8,468.0 215.1,468.6 215.4,469.0 215.8,468.7 216.1,467.9 216.4,468.6 216.8,469.5 217.1,469.2 217.4,468.6 217.8,468.6 218.1,468.9 218.4,469.0 218.7,468.5 219.1,468.2 219.4,468.7 219.7,468.2 220.1,468.3 220.4,468.8 220.7,468.5 221.1,468.7 221.4,468.3 221.7,468.1 222.0,468.8 222.4,469.0 222.7,469.2 223.0,468.6 223.4,467.6 223.7,468.2 224.0,469.0 224.4,469.7 224.7,469.8 225.0,468.6 225.3,468.7 225.7,468.7 226.0,467.8 226.3,469.1 226.7,469.8 227.0,469.1 227.3,469.2 227.7,469.6 228.0,469.5 228.3,469.3 228.6,468.8 229.0,467.8 229.3,468.7 229.6,469.8 230.0,469.5 230.3,469.0 230.6,468.9 231.0,468.5 231.3,469.0 231.6,469.6 231.9,469.2 232.3,469.1 232.6,469.3 232.9,469.3 233.3,469.2 233.6,468.5 233.9,468.5 234.3,469.8 234.6,469.4 234.9,468.5 235.2,469.0 235.6,469.4 235.9,469.3 236.2,468.3 236.6,468.3 236.9,468.4 237.2,467.9 237.6,468.6 237.9,468.8 238.2,468.9 238.5,470.2 238.9,470.2 239.2,469.3 239.5,468.6 239.9,468.1 240.2,468.0 240.5,468.1 240.9,468.1 241.2,468.0 241.5,468.4 241.8,468.2 242.2,467.8 242.5,467.6 242.8,468.3 243.2,468.9 243.5,469.1 243.8,469.5 244.2,469.0 244.5,468.8 244.8,468.4 245.1,469.0 245.5,470.0 245.8,469.1 246.1,468.1 246.5,468.4 246.8,468.1 247.1,467.6 247.5,468.7 247.8,469.0 248.1,468.5 248.4,468.8 248.8,468.6 249.1,468.4 249.4,468.6 249.8,468.1 250.1,468.5 250.4,468.4 250.8,469.0 251.1,469.2 251.4,469.2 251.7,469.0 252.1,468.4 252.4,468.4 252.7,467.6 253.1,468.2 253.4,468.9 253.7,468.4 254.1,468.6 254.4,468.8 254.7,468.3 255.0,468.8 255.4,469.0 255.7,468.1 256.0,468.5 256.4,469.4 256.7,468.6 257.0,468.0 257.4,467.5 257.7,467.4 258.0,468.2 258.3,468.6 258.7,468.0 259.0,467.9 259.3,468.9 259.7,469.0 260.0,468.2 260.3,468.8 260.7,469.2 261.0,468.7 261.3,468.3 261.6,467.6 262.0,467.4 262.3,467.8 262.6,468.2 263.0,468.5 263.3,468.8 263.6,468.7 264.0,468.6 264.3,468.1 264.6,467.2 264.9,467.4 265.3,467.8 265.6,467.8 265.9,468.0 266.3,467.8 266.6,467.5 266.9,467.9 267.3,468.4 267.6,468.1 267.9,468.3 268.2,468.4 268.6,467.8 268.9,467.9 269.2,469.0 269.6,468.8 269.9,468.5 270.2,469.3 270.6,469.4 270.9,468.5 271.2,468.7 271.5,469.1 271.9,468.2 272.2,468.0 272.5,468.3 272.9,468.4 273.2,468.1 273.5,468.6 273.9,468.4 274.2,467.4 274.5,468.0 274.8,468.7 275.2,468.8 275.5,468.1 275.8,468.1 276.2,468.7 276.5,468.9 276.8,468.2 277.2,467.6 277.5,468.0 277.8,467.3 278.1,467.1 278.5,468.1 278.8,468.2 279.1,467.5 279.5,468.0 279.8,468.7 280.1,468.7 280.5,468.0 280.8,467.6 281.1,468.3 281.4,468.0 281.8,467.3 282.1,467.9 282.4,468.8 282.8,468.0 283.1,466.4 283.4,466.2 283.8,466.8 284.1,467.3 284.4,468.0 284.7,467.9 285.1,467.4 285.4,467.5 285.7,467.4 286.1,467.3 286.4,467.4 286.7,468.5 287.1,469.1 287.4,467.7 287.7,467.0 288.0,467.1 288.4,466.9 288.7,466.7 289.0,467.1 289.4,467.7 289.7,467.8 290.0,467.2 290.4,466.8 290.7,466.7 291.0,467.1 291.3,467.5 291.7,468.0 292.0,467.8 292.3,467.8 292.7,468.1 293.0,467.7 293.3,466.8 293.7,466.3 294.0,467.4 294.3,468.4 294.6,468.2 295.0,468.0 295.3,467.7 295.6,467.3 296.0,467.2 296.3,467.7 296.6,468.1 297.0,467.6 297.3,467.4 297.6,467.7 297.9,467.9 298.3,467.4 298.6,467.9 298.9,468.3 299.3,467.6 299.6,468.1 299.9,468.5 300.3,467.9 300.6,467.7 300.9,467.3 301.2,466.8 301.6,466.3 301.9,467.0 302.2,467.1 302.6,466.9 302.9,467.3 303.2,466.6 303.6,466.8 303.9,467.2 304.2,467.5 304.5,468.0 304.9,467.8 305.2,467.4 305.5,466.9 305.9,466.7 306.2,466.9 306.5,466.3 306.9,466.0 307.2,465.9 307.5,465.7 307.8,465.6 308.2,465.0 308.5,464.1 308.8,464.2 309.2,463.3 309.5,462.2 309.8,462.9 310.2,461.5 310.5,459.9 310.8,460.5 311.1,459.4 311.5,459.5 311.8,458.4 312.1,457.4 312.5,458.5 312.8,457.9 313.1,456.9 313.5,456.6 313.8,456.5 314.1,456.9 314.4,457.2 314.8,457.3 315.1,458.7 315.4,459.0 315.8,459.1 316.1,460.2 316.4,460.3 316.8,461.2 317.1,462.3 317.4,461.7 317.7,461.8 318.1,462.3 318.4,462.3 318.7,462.7 319.1,462.8 319.4,463.2 319.7,463.2 320.1,463.3 320.4,463.7 320.7,463.8 321.0,463.9 321.4,463.7 321.7,463.8 322.0,464.5 322.4,465.7 322.7,466.7 323.0,467.1 323.4,466.7 323.7,466.4 324.0,466.7 324.3,467.0 324.7,467.6 325.0,468.1 325.3,467.4 325.7,466.9 326.0,467.8 326.3,468.3 326.7,467.8 327.0,468.2 327.3,468.2 327.6,467.6 328.0,467.7 328.3,467.0 328.6,467.6 329.0,467.9 329.3,467.4 329.6,467.6 330.0,468.1 330.3,468.4 330.6,468.2 330.9,467.5 331.3,467.5 331.6,467.6 331.9,467.8 332.3,468.5 332.6,468.4 332.9,469.1 333.3,469.3 333.6,468.7 333.9,468.6 334.2,468.3 334.6,468.6 334.9,469.2 335.2,468.3 335.6,468.3 335.9,469.0 336.2,468.9 336.6,468.9 336.9,468.1 337.2,467.4 337.5,468.7 337.9,469.2 338.2,468.0 338.5,468.0 338.9,468.4 339.2,467.6 339.5,466.8 339.9,466.9 340.2,467.9 340.5,468.5 340.8,468.3 341.2,468.4 341.5,468.8 341.8,467.8 342.2,467.4 342.5,467.9 342.8,467.5 343.2,467.5 343.5,467.9 343.8,468.0 344.1,467.4 344.5,467.2 344.8,468.5 345.1,468.1 345.5,466.6 345.8,467.0 346.1,467.7 346.5,467.6 346.8,466.6 347.1,466.5 347.4,466.2 347.8,464.6 348.1,463.3 348.4,461.8 348.8,459.4 349.1,455.5 349.4,450.8 349.8,446.0 350.1,440.4 350.4,434.7 350.7,427.3 351.1,421.3 351.4,417.1 351.7,413.1 352.1,410.5 352.4,408.6 352.7,410.9 353.1,412.9 353.4,417.7 353.7,421.9 354.0,426.7 354.4,435.3 354.7,440.6 355.0,445.4 355.4,450.5 355.7,455.6 356.0,458.9 356.4,461.1 356.7,463.3 357.0,464.7 357.3,465.5 357.7,465.8 358.0,465.7 358.3,465.5 358.7,465.2 359.0,464.8 359.3,464.7 359.7,464.6 360.0,463.8 360.3,464.1 360.6,464.1 361.0,462.6 361.3,462.9 361.6,463.1 362.0,463.0 362.3,463.5 362.6,463.8 363.0,464.4 363.3,464.5 363.6,464.9 363.9,466.3 364.3,465.8 364.6,465.3 364.9,466.6 365.3,466.3 365.6,465.7 365.9,467.1 366.3,467.5 366.6,467.4 366.9,467.7 367.2,466.9 367.6,466.7 367.9,466.8 368.2,466.9 368.6,466.5 368.9,465.8 369.2,465.4 369.6,465.4 369.9,465.2 370.2,463.8 370.5,462.6 370.9,462.5 371.2,461.8 371.5,460.7 371.9,459.8 372.2,459.0 372.5,458.7 372.9,458.4 373.2,457.5 373.5,457.3 373.8,456.8 374.2,457.0 374.5,457.3 374.8,456.4 375.2,456.2 375.5,455.5 375.8,456.3 376.2,458.2 376.5,459.8 376.8,460.0 377.1,460.8 377.5,462.0 377.8,462.2 378.1,462.0 378.5,462.4 378.8,463.7 379.1,464.4 379.5,465.0 379.8,464.6 380.1,465.2 380.4,466.2 380.8,466.3 381.1,466.6 381.4,466.9 381.8,466.6 382.1,465.8 382.4,465.3 382.8,466.4 383.1,467.3 383.4,466.8 383.7,466.4 384.1,466.4 384.4,466.6 384.7,466.4 385.1,466.2 385.4,467.1 385.7,467.5 386.1,466.4 386.4,465.8 386.7,465.8 387.0,466.5 387.4,467.1 387.7,466.7 388.0,466.4 388.4,466.4 388.7,465.9 389.0,466.6 389.4,467.1 389.7,467.6 390.0,467.1 390.3,466.1 390.7,466.7 391.0,466.7 391.3,465.7 391.7,465.4 392.0,466.0 392.3,466.5 392.7,466.4 393.0,466.6 393.3,467.0 393.6,466.7 394.0,466.3 394.3,466.1 394.6,466.2 395.0,466.7 395.3,466.5 395.6,466.3 396.0,466.1 396.3,465.3 396.6,465.1 396.9,465.9 397.3,466.4 397.6,466.6 397.9,466.4 398.3,466.1 398.6,466.5 398.9,466.5 399.3,465.7 399.6,465.1 399.9,465.3 400.2,464.9 400.6,465.0 400.9,465.6 401.2,465.0 401.6,465.2 401.9,465.0 402.2,463.9 402.6,463.6 402.9,463.1 403.2,463.0 403.5,462.5 403.9,462.0 404.2,460.7 404.5,457.1 404.9,451.8 405.2,439.5 405.5,420.6 405.9,406.2 406.2,394.8 406.5,381.3 406.8,371.3 407.2,360.0 407.5,351.1 407.8,344.3 408.2,337.6 408.5,333.1 408.8,332.3 409.2,336.4 409.5,342.1 409.8,350.0 410.1,357.0 410.5,367.6 410.8,377.9 411.1,390.4 411.5,403.3 411.8,417.0 412.1,433.5 412.5,450.0 412.8,455.8 413.1,456.9 413.4,457.6 413.8,458.8 414.1,459.1 414.4,459.3 414.8,459.3 415.1,459.9 415.4,460.3 415.8,459.9 416.1,460.2 416.4,460.4 416.7,460.1 417.1,459.8 417.4,460.3 417.7,460.2 418.1,459.3 418.4,458.6 418.7,458.2 419.1,457.9 419.4,457.7 419.7,457.8 420.0,456.5 420.4,455.9 420.7,456.4 421.0,455.8 421.4,454.5 421.7,454.2 422.0,453.4 422.4,451.5 422.7,450.4 423.0,449.7 423.3,449.4 423.7,448.5 424.0,446.9 424.3,444.5 424.7,442.6 425.0,441.2 425.3,439.7 425.7,437.7 426.0,436.2 426.3,435.5 426.6,433.9 427.0,432.4 427.3,430.9 427.6,429.1 428.0,428.5 428.3,429.1 428.6,429.7 429.0,429.2 429.3,429.8 429.6,430.7 429.9,431.9 430.3,433.6 430.6,434.3 430.9,436.0 431.3,437.5 431.6,438.6 431.9,440.0 432.3,442.2 432.6,444.3 432.9,445.8 433.2,447.1 433.6,449.1 433.9,450.5 434.2,450.9 434.6,452.7 434.9,454.6 435.2,455.3 435.6,455.0 435.9,455.5 436.2,457.2 436.5,458.2 436.9,459.2 437.2,459.3 437.5,459.5 437.9,460.4 438.2,461.1 438.5,461.8 438.9,462.1 439.2,462.2 439.5,461.6 439.8,461.8 440.2,462.4 440.5,462.7 440.8,463.7 441.2,464.9 441.5,464.7 441.8,464.0 442.2,464.0 442.5,464.4 442.8,465.2 443.1,465.7 443.5,465.5 443.8,465.4 444.1,464.5 444.5,464.5 444.8,465.0 445.1,465.5 445.5,466.1 445.8,465.7 446.1,465.7 446.4,466.7 446.8,466.5 447.1,465.7 447.4,466.0 447.8,466.2 448.1,466.2 448.4,466.7 448.8,467.6 449.1,466.8 449.4,466.2 449.7,466.9 450.1,467.0 450.4,466.9 450.7,466.9 451.1,467.4 451.4,467.4 451.7,467.0 452.1,467.2 452.4,467.4 452.7,467.3 453.0,467.7 453.4,467.8 453.7,467.5 454.0,467.5 454.4,467.1 454.7,466.8 455.0,466.9 455.4,467.3 455.7,467.4 456.0,467.0 456.3,467.4 456.7,468.0 457.0,467.3 457.3,467.7 457.7,468.5 458.0,467.8 458.3,468.2 458.7,468.3 459.0,467.7 459.3,468.5 459.6,468.4 460.0,467.5 460.3,468.2 460.6,467.9 461.0,467.5 461.3,468.1 461.6,469.1 462.0,468.6 462.3,467.7 462.6,468.3 462.9,468.4 463.3,467.7 463.6,467.8 463.9,468.3 464.3,468.3 464.6,468.8 464.9,469.0 465.3,468.7 465.6,468.5 465.9,467.9 466.2,467.7 466.6,468.2 466.9,468.1 467.2,468.1 467.6,468.0 467.9,468.5 468.2,469.7 468.6,468.9 468.9,468.3 469.2,468.3 469.5,468.7 469.9,469.0 470.2,468.5 470.5,468.2 470.9,468.3 471.2,468.0 471.5,468.2 471.9,468.3 472.2,468.3 472.5,468.6 472.8,468.8 473.2,468.8 473.5,468.8 473.8,468.4 474.2,468.2 474.5,468.5 474.8,468.4 475.2,468.5 475.5,468.8 475.8,468.0 476.1,467.7 476.5,467.9 476.8,468.3 477.1,468.1 477.5,467.2 477.8,467.3 478.1,468.4 478.5,468.5 478.8,467.9 479.1,468.2 479.4,467.5 479.8,467.5 480.1,468.5 480.4,468.5 480.8,468.6 481.1,468.6 481.4,468.2 481.8,468.1 482.1,468.2 482.4,469.1 482.7,469.0 483.1,468.3 483.4,467.8 483.7,467.3 484.1,467.9 484.4,467.5 484.7,466.3 485.1,466.4 485.4,466.3 485.7,466.7 486.0,465.6 486.4,464.6 486.7,465.6 487.0,465.0 487.4,464.6 487.7,465.4 488.0,466.6 488.4,466.5 488.7,465.6 489.0,466.7 489.3,468.2 489.7,468.0 490.0,466.8 490.3,467.6 490.7,468.6 491.0,468.5 491.3,468.7 491.7,468.1 492.0,468.0 492.3,468.8 492.6,469.5 493.0,468.1 493.3,467.2 493.6,468.7 494.0,468.9 494.3,467.7 494.6,467.8 495.0,468.2 495.3,468.2 495.6,468.0 495.9,467.9 496.3,467.8 496.6,468.0 496.9,467.9 497.3,467.6 497.6,467.8 497.9,468.4 498.3,468.6 498.6,468.0 498.9,468.1 499.2,468.3 499.6,468.6 499.9,468.7 500.2,469.0 500.6,469.4 500.9,468.8 501.2,468.2 501.6,468.6 501.9,469.1 502.2,468.8 502.5,468.1 502.9,467.5 503.2,468.3 503.5,469.4 503.9,469.6 504.2,468.9 504.5,469.0 504.9,469.4 505.2,469.2 505.5,469.6 505.8,469.2 506.2,468.9 506.5,468.4 506.8,468.3 507.2,468.5 507.5,469.0 507.8,469.8 508.2,470.0 508.5,470.2 508.8,469.6 509.1,469.6 509.5,469.7 509.8,469.9 510.1,470.2 510.5,469.6 510.8,469.5 511.1,469.9 511.5,469.8 511.8,470.2 512.1,471.0 512.4,470.5 512.8,469.7 513.1,469.0 513.4,469.1 513.8,469.8 514.1,469.1 514.4,469.4 514.8,470.5 515.1,470.1 515.4,469.7 515.7,469.7 516.1,470.1 516.4,469.9 516.7,469.5 517.1,470.9 517.4,471.1 517.7,470.5 518.1,470.4 518.4,469.8 518.7,469.9 519.0,470.5 519.4,470.1 519.7,470.1 520.0,471.0 520.4,471.3 520.7,470.2 521.0,469.4 521.4,469.4 521.7,470.2 522.0,471.1 522.3,470.9 522.7,470.4 523.0,469.6 523.3,470.0 523.7,470.5 524.0,470.2 524.3,470.2 524.7,470.8 525.0,470.8 525.3,470.1 525.6,469.2 526.0,469.5 526.3,470.4 526.6,470.4 527.0,470.2 527.3,470.0 527.6,470.4 528.0,470.7 528.3,470.4 528.6,470.1 528.9,469.8 529.3,470.2 529.6,470.0 529.9,469.5 530.3,469.7 530.6,470.7 530.9,470.9 531.3,471.0 531.6,470.8 531.9,470.1 532.2,469.6 532.6,469.5 532.9,470.6 533.2,470.9 533.6,470.6 533.9,470.7 534.2,470.4 534.6,470.1 534.9,470.1 535.2,470.4 535.5,470.5 535.9,470.4 536.2,470.3 536.5,469.8 536.9,469.6 537.2,469.5 537.5,470.0 537.9,469.5 538.2,469.0 538.5,470.7 538.8,470.6 539.2,469.2 539.5,469.3 539.8,470.2 540.2,470.1 540.5,469.9 540.8,469.9 541.2,469.5 541.5,470.7 541.8,470.8 542.1,469.3 542.5,469.1 542.8,469.4 543.1,469.7 543.5,469.8 543.8,469.7 544.1,468.8 544.5,468.9 544.8,469.3 545.1,468.9 545.4,468.4 545.8,468.2 546.1,468.5 546.4,468.6 546.8,468.3 547.1,468.2 547.4,468.7 547.8,468.2 548.1,467.7 548.4,467.7 548.7,468.1 549.1,467.2 549.4,466.5 549.7,466.5 550.1,466.1 550.4,466.7 550.7,466.1 551.1,465.3 551.4,464.7 551.7,464.8 552.0,464.9 552.4,464.0 552.7,462.7 553.0,461.5 553.4,462.3 553.7,462.7 554.0,462.4 554.4,463.0 554.7,463.0 555.0,463.7 555.3,464.7 555.7,465.1 556.0,465.3 556.3,465.7 556.7,466.0 557.0,466.4 557.3,467.3 557.7,467.5 558.0,467.3 558.3,467.2 558.6,466.0 559.0,466.0 559.3,466.9 559.6,466.4 560.0,466.3 560.3,465.5 560.6,465.2 561.0,465.7 561.3,466.2 561.6,465.4 561.9,464.2 562.3,464.7 562.6,464.3 562.9,464.2 563.3,464.3 563.6,462.8 563.9,462.9 564.3,463.7 564.6,462.7 564.9,462.6 565.2,463.0 565.6,463.1 565.9,463.2 566.2,462.3 566.6,462.9 566.9,464.2 567.2,465.1 567.6,465.8 567.9,465.6 568.2,465.1 568.5,465.0 568.9,465.2 569.2,465.4 569.5,465.7 569.9,465.2 570.2,465.6 570.5,466.8 570.9,467.9 571.2,468.3 571.5,467.3 571.8,467.3 572.2,467.1 572.5,466.8 572.8,466.6 573.2,467.4 573.5,468.4 573.8,467.4 574.2,467.2 574.5,468.1 574.8,468.3 575.1,468.1 575.5,467.6 575.8,467.2 576.1,467.6 576.5,468.2 576.8,467.8 577.1,467.0 577.5,467.7 577.8,467.8 578.1,467.8 578.4,468.2 578.8,468.1 579.1,468.6 579.4,468.5 579.8,468.1 580.1,467.4 580.4,466.8 580.8,467.4 581.1,468.2 581.4,468.4 581.7,468.6 582.1,468.1 582.4,467.2 582.7,467.3 583.1,467.1 583.4,466.6 583.7,466.0 584.1,466.3 584.4,466.1 584.7,465.7 585.0,465.3 585.4,465.3 585.7,465.2 586.0,464.8 586.4,464.3 586.7,463.5 587.0,464.2 587.4,463.7 587.7,462.9 588.0,462.7 588.3,461.3 588.7,461.2 589.0,461.8 589.3,460.8 589.7,460.4 590.0,460.0 590.3,459.0 590.7,458.8 591.0,458.5 591.3,459.0 591.6,458.2 592.0,457.3 592.3,458.0 592.6,456.7 593.0,455.4 593.3,456.3 593.6,456.8 594.0,456.8 594.3,457.5 594.6,457.4 594.9,456.8 595.3,456.2 595.6,457.0 595.9,458.1 596.3,458.6 596.6,459.5 596.9,459.3 597.3,460.4 597.6,461.8 597.9,461.9 598.2,461.5 598.6,461.5 598.9,462.2 599.2,462.6 599.6,462.7 599.9,463.5 600.2,464.3 600.6,464.7 600.9,464.7 601.2,465.3 601.5,465.9 601.9,464.6 602.2,464.5 602.5,465.8 602.9,466.6 603.2,466.7 603.5,466.4 603.9,466.4 604.2,466.9 604.5,467.1 604.8,466.7 605.2,466.7 605.5,467.3 605.8,467.4 606.2,466.6 606.5,467.2 606.8,467.6 607.2,467.6 607.5,468.0 607.8,468.4 608.1,468.7 608.5,468.1 608.8,467.6 609.1,467.4 609.5,468.1 609.8,468.9 610.1,468.8 610.5,468.5 610.8,467.2 611.1,467.9 611.4,468.8 611.8,468.3 612.1,468.3 612.4,468.5 612.8,468.7 613.1,467.8 613.4,468.1 613.8,468.5 614.1,467.9 614.4,468.8 614.7,469.4 615.1,468.6 615.4,467.5 615.7,467.7 616.1,468.7 616.4,468.6 616.7,467.9 617.1,467.6 617.4,467.6 617.7,468.0 618.0,468.8 618.4,469.2 618.7,468.6 619.0,468.3 619.4,468.8 619.7,468.5 620.0,468.2 620.4,469.3 620.7,469.4 621.0,468.9 621.3,468.7 621.7,468.4 622.0,467.9 622.3,467.9 622.7,469.0 623.0,469.8 623.3,469.8 623.7,469.3 624.0,468.8 624.3,468.3 624.6,468.3 625.0,468.7 625.3,468.5 625.6,468.6 626.0,468.6 626.3,467.5 626.6,467.5 627.0,467.5 627.3,467.4 627.6,468.5 627.9,469.0 628.3,468.6 628.6,469.1 628.9,469.6 629.3,468.9 629.6,468.9 629.9,469.3 630.3,468.8 630.6,468.8 630.9,468.2 631.2,467.8 631.6,468.3 631.9,468.8 632.2,468.7 632.6,468.4 632.9,469.0 633.2,469.6 633.6,469.5 633.9,469.4 634.2,469.0 634.5,468.4 634.9,468.7 635.2,468.7 635.5,468.3 635.9,469.1 636.2,469.2 636.5,468.2 636.9,468.5 637.2,469.6 637.5,469.4 637.8,469.2 638.2,469.0 638.5,468.3 638.8,468.2 639.2,468.3 639.5,469.3 639.8,468.9 640.2,468.8 640.5,468.9 640.8,468.2 641.1,468.9 641.5,469.2 641.8,469.0 642.1,468.1 642.5,468.2 642.8,468.4 643.1,469.3 643.5,469.6 643.8,468.7 644.1,468.3 644.4,468.0 644.8,468.0 645.1,468.5 645.4,468.9 645.8,468.8 646.1,468.6 646.4,468.2 646.8,469.0 647.1,468.8 647.4,467.6 647.7,468.1 648.1,468.4 648.4,468.0 648.7,468.8 649.1,468.7 649.4,468.7 649.7,468.7 650.1,469.0 650.4,469.8 650.7,469.0 651.0,468.4 651.4,468.2 651.7,468.4 652.0,469.2 652.4,468.5 652.7,468.4 653.0,468.5 653.4,467.8 653.7,467.6 654.0,468.8 654.3,469.5 654.7,468.8 655.0,468.5 655.3,468.8 655.7,468.2 656.0,467.8 656.3,469.5 656.7,469.3 657.0,468.5 657.3,468.9 657.6,468.6 658.0,468.3 658.3,469.0 658.6,469.1 659.0,468.8 659.3,468.6 659.6,468.6 660.0,468.7 660.3,469.2 660.6,469.4 660.9,468.8 661.3,467.5 661.6,467.9 661.9,469.1 662.3,468.5 662.6,467.3 662.9,467.2 663.3,468.3 663.6,468.3 663.9,467.7 664.2,468.1 664.6,468.7 664.9,468.5 665.2,467.9 665.6,467.6 665.9,468.2 666.2,468.8 666.6,468.0 666.9,467.0 667.2,466.6 667.5,467.2 667.9,467.1 668.2,467.1 668.5,467.4 668.9,467.0 669.2,467.0 669.5,466.9 669.9,466.1 670.2,465.6 670.5,466.7 670.8,465.9 671.2,464.4 671.5,464.8 671.8,464.4 672.2,463.0 672.5,461.4 672.8,460.4 673.2,459.5 673.5,457.5 673.8,453.9 674.1,449.8 674.5,445.1 674.8,440.3 675.1,435.1 675.5,431.0 675.8,427.6 676.1,423.8 676.5,421.4 676.8,419.8 677.1,419.6 677.4,420.3 677.8,422.0 678.1,425.3 678.4,429.4 678.8,433.8 679.1,439.0 679.4,443.8 679.8,447.9 680.1,451.8 680.4,454.7 680.7,457.2 681.1,459.3 681.4,460.7 681.7,462.2 682.1,463.1 682.4,463.0 682.7,462.7 683.1,463.6 683.4,464.8 683.7,465.2 684.0,465.4 684.4,465.9 684.7,465.8 685.0,465.3 685.4,464.7 685.7,464.3 686.0,464.5 686.4,464.9 686.7,465.0 687.0,464.8 687.3,464.4 687.7,464.4 688.0,464.2 688.3,463.7 688.7,463.3 689.0,462.4 689.3,461.3 689.7,461.0 690.0,460.8 690.3,459.7 690.6,458.4 691.0,458.3 691.3,457.0 691.6,454.9 692.0,454.0 692.3,452.3 692.6,450.9 693.0,450.7 693.3,449.7 693.6,448.1 693.9,446.9 694.3,445.9 694.6,445.5 694.9,445.2 695.3,444.7 695.6,445.2 695.9,446.4 696.3,447.4 696.6,448.4 696.9,448.7 697.2,450.2 697.6,453.2 697.9,454.6 698.2,454.9 698.6,455.2 698.9,456.6 699.2,457.7 699.6,458.9 699.9,460.0 700.2,460.9 700.5,462.3 700.9,461.8 701.2,462.0 701.5,463.0 701.9,462.8 702.2,463.2 702.5,464.0 702.9,464.9 703.2,464.6 703.5,464.8 703.8,466.4 704.2,466.3 704.5,465.9 704.8,465.7 705.2,465.1 705.5,465.4 705.8,466.1 706.2,466.2 706.5,467.1 706.8,467.1 707.1,466.3 707.5,466.6 707.8,465.9 708.1,464.9 708.5,465.3 708.8,465.5 709.1,465.9 709.5,466.0 709.8,466.4 710.1,467.2 710.4,466.8 710.8,466.0 711.1,466.0 711.4,466.5 711.8,465.8 712.1,465.7 712.4,466.4 712.8,466.3 713.1,466.7 713.4,467.1 713.7,466.1 714.1,465.7 714.4,465.7 714.7,465.9 715.1,465.8 715.4,465.9 715.7,466.4 716.1,466.3 716.4,466.0 716.7,464.9 717.0,465.4 717.4,465.7 717.7,465.3 718.0,465.4 718.4,464.9 718.7,465.3 719.0,465.2 719.4,465.2 719.7,464.7 720.0,464.7 720.3,465.5 720.7,465.4 721.0,465.8 721.3,466.2 721.7,467.1 722.0,466.4 722.3,466.0 722.7,466.5 723.0,467.1 723.3,467.3 723.6,467.1 724.0,467.1 724.3,467.3 724.6,467.8 725.0,467.4 725.3,467.1 725.6,466.7 726.0,466.8 726.3,467.7 726.6,467.3 726.9,467.4 727.3,466.8 727.6,465.6 727.9,465.9 728.3,466.3 728.6,466.8 728.9,466.9 729.3,466.8 729.6,467.0 729.9,466.8 730.2,465.9 730.6,465.5 730.9,466.6 731.2,466.0 731.6,465.0 731.9,466.2 732.2,466.3 732.6,465.2 732.9,464.7 733.2,465.1 733.5,465.3 733.9,464.3 734.2,463.8 734.5,464.0 734.9,463.8 735.2,463.9 735.5,463.0 735.9,461.5 736.2,461.5 736.5,462.4 736.8,462.3 737.2,461.4 737.5,461.9 737.8,461.2 738.2,460.5 738.5,460.7 738.8,460.4 739.2,460.7 739.5,461.4 739.8,461.2 740.1,460.6 740.5,460.6 740.8,461.3 741.1,462.1 741.5,462.4 741.8,462.5 742.1,462.5 742.5,463.7 742.8,464.1 743.1,464.3 743.4,464.9 743.8,464.8 744.1,464.2 744.4,465.0 744.8,465.9 745.1,466.2 745.4,465.5 745.8,464.7 746.1,464.8 746.4,465.2 746.7,466.5 747.1,467.2 747.4,466.8 747.7,466.6 748.1,466.9 748.4,466.7 748.7,466.5 749.1,466.6 749.4,465.5 749.7,465.2 750.0,466.5 750.4,466.4 750.7,465.8 751.0,465.7 751.4,465.7 751.7,466.5 752.0,466.7 752.4,466.1 752.7,465.2 753.0,465.5 753.3,466.2 753.7,465.9 754.0,467.1 754.3,468.2 754.7,467.3 755.0,467.5 755.3,468.5 755.7,467.9 756.0,468.1 756.3,467.8 756.6,467.1 757.0,467.2 757.3,467.3 757.6,468.2 758.0,468.2 758.3,467.4 758.6,467.6 759.0,468.1 759.3,468.4 759.6,468.6 759.9,468.5 760.3,467.7 760.6,467.8 760.9,468.3 761.3,468.1 761.6,468.2 761.9,469.3 762.3,469.0 762.6,468.3 762.9,469.1 763.2,468.8 763.6,468.0 763.9,467.8 764.2,468.3 764.6,468.9 764.9,468.7 765.2,468.5 765.6,469.1 765.9,469.4 766.2,468.4 766.5,468.1 766.9,468.6 767.2,468.9 767.5,468.8 767.9,468.3 768.2,468.2 768.5,467.8 768.9,467.9 769.2,468.4 769.5,468.6 769.8,468.4 770.2,468.1 770.5,468.1 770.8,467.9 771.2,468.5 771.5,468.8 771.8,468.7 772.2,468.4 772.5,468.3 772.8,468.0 773.1,467.8 773.5,468.3 773.8,468.7"/>
<line x1="409" y1="336" x2="409.1" y2="400" stroke="#00ff00" stroke-width="1.8"/>
<polyline stroke="#ff0000" stroke-width="2.65" points="65.3,419.3 65.6,419.4 66.0,419.3 66.3,419.4 66.6,419.3 66.9,419.0 67.3,419.1 67.6,419.0 67.9,419.0 68.3,419.4 68.6,419.5 68.9,419.1 69.3,418.6 69.6,418.6 69.9,418.9 70.2,419.1 70.6,419.0 70.9,418.7 71.2,418.9 71.6,418.8 71.9,418.5 72.2,419.0 72.6,419.3 72.9,419.0 73.2,418.6 73.5,418.1 73.9,418.1 74.2,418.3 74.5,418.1 74.9,417.8 75.2,417.6 75.5,417.5 75.9,417.4 76.2,417.6 76.5,417.4 76.8,416.3 77.2,415.6 77.5,415.2 77.8,414.6 78.2,414.4 78.5,413.5 78.8,411.8 79.2,410.0 79.5,407.9 79.8,405.3 80.1,403.2 80.5,401.8 80.8,401.8 81.1,401.8 81.5,402.6 81.8,404.5 82.1,405.2 82.5,405.6 82.8,405.6 83.1,405.0 83.4,404.0 83.8,402.3 84.1,400.4 84.4,398.9 84.8,397.6 85.1,397.2 85.4,397.9 85.8,399.6 86.1,401.4 86.4,403.6 86.7,406.0 87.1,407.5 87.4,409.2 87.7,410.0 88.1,409.7 88.4,410.1 88.7,409.8 89.1,409.2 89.4,408.8 89.7,408.1 90.0,407.4 90.4,406.4 90.7,405.2 91.0,403.6 91.4,401.6 91.7,399.3 92.0,396.4 92.4,393.9 92.7,390.9 93.0,387.0 93.3,383.7 93.7,379.5 94.0,373.8 94.3,368.3 94.7,363.0 95.0,356.4 95.3,349.4 95.7,342.0 96.0,332.2 96.3,320.9 96.6,308.2 97.0,293.9 97.3,276.8 97.6,254.3 98.0,195.2 98.3,115.1 98.6,7.5 99.0,-131.2 99.3,-317.3 99.6,-565.1 99.9,-895.6 100.3,-1280.0 100.6,-1716.7 100.9,-2266.0 101.3,-2247.6 101.6,-1702.3 101.9,-1268.6 102.3,-883.9 102.6,-555.6 102.9,-310.3 103.2,-126.6 103.6,10.8 103.9,152.6 104.2,247.3 104.6,284.3 104.9,307.9 105.2,327.5 105.6,345.0 105.9,362.4 106.2,373.9 106.5,380.0 106.9,385.3 107.2,390.5 107.5,395.6 107.9,399.6 108.2,402.2 108.5,404.1 108.9,406.3 109.2,408.3 109.5,409.3 109.8,409.9 110.2,411.4 110.5,412.2 110.8,412.6 111.2,413.8 111.5,413.8 111.8,414.0 112.2,414.6 112.5,415.1 112.8,415.6 113.1,416.4 113.5,416.8 113.8,416.6 114.1,417.0 114.5,417.1 114.8,417.0 115.1,417.8 115.5,417.9 115.8,417.4 116.1,417.7 116.4,417.8 116.8,417.4 117.1,418.0 117.4,418.5 117.8,418.2 118.1,418.4 118.4,418.3 118.8,418.2 119.1,418.5 119.4,419.4 119.7,419.6 120.1,419.2 120.4,418.7 120.7,418.5 121.1,418.6 121.4,418.8 121.7,419.1 122.1,419.0 122.4,419.0 122.7,418.9 123.0,418.6 123.4,418.9 123.7,418.9 124.0,418.5 124.4,418.8 124.7,419.0 125.0,419.1 125.4,419.6 125.7,419.6 126.0,419.3 126.3,419.3 126.7,419.5 127.0,419.0 127.3,418.9 127.7,419.1 128.0,418.7 128.3,418.9 128.7,419.1 129.0,419.3 129.3,419.7 129.6,418.9 130.0,418.6 130.3,419.7 130.6,419.9 131.0,419.8 131.3,419.6 131.6,418.9 132.0,418.6 132.3,419.1 132.6,419.7 132.9,419.3 133.3,419.0 133.6,419.2 133.9,418.9 134.3,418.7 134.6,419.6 134.9,420.2 135.3,419.8 135.6,419.7 135.9,419.6 136.2,418.9 136.6,418.5 136.9,418.9 137.2,419.4 137.6,419.7 137.9,419.9 138.2,419.4 138.6,418.8 138.9,419.2 139.2,419.5 139.5,419.1 139.9,418.7 140.2,418.9 140.5,419.7 140.9,419.3 141.2,419.1 141.5,419.4 141.9,419.6 142.2,419.5 142.5,419.7 142.8,419.6 143.2,419.0 143.5,419.0 143.8,418.5 144.2,418.4 144.5,419.3 144.8,419.6 145.2,419.1 145.5,419.1 145.8,418.8 146.1,418.7 146.5,419.3 146.8,419.6 147.1,419.2 147.5,419.3 147.8,419.9 148.1,419.6 148.5,419.3 148.8,419.0 149.1,418.4 149.4,418.9 149.8,419.4 150.1,419.3 150.4,419.2 150.8,419.0 151.1,419.4 151.4,419.9 151.8,419.6 152.1,418.8 152.4,419.2 152.7,419.7 153.1,419.6 153.4,419.5 153.7,419.9 154.1,419.9 154.4,419.4 154.7,418.9 155.1,418.6 155.4,418.9 155.7,419.1 156.0,419.3 156.4,419.2 156.7,419.5 157.0,419.4 157.4,418.9 157.7,419.2 158.0,419.0 158.4,419.1 158.7,419.6 159.0,419.3 159.3,419.7 159.7,419.8 160.0,419.3 160.3,419.1 160.7,418.6 161.0,418.7 161.3,419.0 161.7,419.1 162.0,419.3 162.3,418.8 162.6,418.4 163.0,418.5 163.3,419.1 163.6,419.4 164.0,419.0 164.3,418.8 164.6,419.2 165.0,419.4 165.3,419.2 165.6,418.8 165.9,419.0 166.3,419.6 166.6,419.5 166.9,419.7 167.3,419.5 167.6,419.2 167.9,419.4 168.3,419.5 168.6,419.3 168.9,419.2 169.2,419.1 169.6,419.3 169.9,419.7 170.2,419.5 170.6,419.7 170.9,419.3 171.2,418.8 171.6,419.6 171.9,419.6 172.2,418.7 172.5,419.2 172.9,419.7 173.2,419.1 173.5,419.1 173.9,419.2 174.2,418.7 174.5,418.9 174.9,419.1 175.2,418.9 175.5,418.9 175.8,418.9 176.2,419.0 176.5,419.3 176.8,419.4 177.2,419.3 177.5,418.8 177.8,418.6 178.2,418.9 178.5,419.6 178.8,419.8 179.1,419.3 179.5,419.3 179.8,419.2 180.1,419.2 180.5,419.4 180.8,419.3 181.1,419.6 181.5,419.3 181.8,419.3 182.1,419.1 182.4,419.0 182.8,419.5 183.1,420.5 183.4,420.4 183.8,419.4 184.1,419.0 184.4,419.3 184.8,419.1 185.1,418.6 185.4,419.1 185.7,419.0 186.1,419.3 186.4,419.9 186.7,419.4 187.1,419.0 187.4,418.8 187.7,418.6 188.1,419.0 188.4,419.5 188.7,419.5 189.0,419.4 189.4,419.2 189.7,419.2 190.0,419.0 190.4,418.9 190.7,419.6 191.0,419.9 191.4,419.4 191.7,419.0 192.0,419.5 192.3,420.0 192.7,419.3 193.0,418.7 193.3,419.2 193.7,419.6 194.0,419.3 194.3,419.2 194.7,419.3 195.0,419.7 195.3,419.9 195.6,419.3 196.0,419.1 196.3,419.4 196.6,419.6 197.0,419.1 197.3,419.0 197.6,418.9 198.0,418.7 198.3,418.7 198.6,418.5 198.9,418.7 199.3,418.8 199.6,419.1 199.9,419.5 200.3,419.3 200.6,418.8 200.9,419.1 201.3,418.9 201.6,418.2 201.9,418.8 202.2,419.5 202.6,419.5 202.9,419.3 203.2,418.7 203.6,418.7 203.9,419.1 204.2,419.0 204.6,418.7 204.9,418.5 205.2,418.4 205.5,418.9 205.9,419.3 206.2,418.7 206.5,418.3 206.9,418.4 207.2,418.7 207.5,418.4 207.9,418.1 208.2,417.6 208.5,417.1 208.8,417.5 209.2,417.7 209.5,416.9 209.8,416.2 210.2,416.3 210.5,416.1 210.8,415.7 211.2,415.9 211.5,416.2 211.8,416.6 212.1,417.1 212.5,417.0 212.8,417.1 213.1,417.5 213.5,417.5 213.8,417.4 214.1,418.2 214.5,418.1 214.8,418.2 215.1,418.7 215.4,418.3 215.8,418.3 216.1,418.4 216.4,418.4 216.8,418.1 217.1,417.6 217.4,417.5 217.8,417.9 218.1,418.2 218.4,417.6 218.7,417.3 219.1,417.5 219.4,417.8 219.7,418.2 220.1,418.9 220.4,418.4 220.7,418.2 221.1,418.8 221.4,418.4 221.7,418.2 222.0,418.1 222.4,418.0 222.7,418.2 223.0,417.6 223.4,417.4 223.7,417.5 224.0,417.3 224.4,417.2 224.7,417.0 225.0,417.0 225.3,417.0 225.7,417.1 226.0,416.8 226.3,417.3 226.7,418.0 227.0,418.6 227.3,418.1 227.7,417.8 228.0,418.7 228.3,418.6 228.6,418.4 229.0,419.3 229.3,419.8 229.6,419.1 230.0,419.1 230.3,419.7 230.6,419.5 231.0,419.3 231.3,419.2 231.6,418.9 231.9,418.7 232.3,419.2 232.6,419.3 232.9,419.6 233.3,419.5 233.6,418.4 233.9,418.5 234.3,419.1 234.6,419.3 234.9,419.3 235.2,419.0 235.6,419.3 235.9,419.4 236.2,419.2 236.6,419.3 236.9,418.8 237.2,419.2 237.6,418.9 237.9,418.3 238.2,419.1 238.5,419.2 238.9,419.3 239.2,419.3 239.5,419.0 239.9,419.6 240.2,419.7 240.5,419.1 240.9,418.9 241.2,418.7 241.5,419.2 241.8,419.5 242.2,419.3 242.5,419.0 242.8,419.2 243.2,418.9 243.5,418.7 243.8,419.0 244.2,418.9 244.5,419.0 244.8,419.0 245.1,418.8 245.5,419.4 245.8,419.8 246.1,419.6 246.5,419.5 246.8,419.4 247.1,419.6 247.5,419.7 247.8,420.0 248.1,419.7 248.4,419.2 248.8,419.2 249.1,418.2 249.4,417.9 249.8,418.8 250.1,419.3 250.4,419.1 250.8,419.3 251.1,419.7 251.4,419.3 251.7,419.4 252.1,419.9 252.4,419.6 252.7,418.9 253.1,419.2 253.4,419.4 253.7,418.9 254.1,419.0 254.4,418.9 254.7,419.2 255.0,419.5 255.4,419.5 255.7,419.4 256.0,418.9 256.4,418.7 256.7,419.1 257.0,419.0 257.4,419.5 257.7,419.5 258.0,418.6 258.3,418.9 258.7,419.2 259.0,418.9 259.3,418.6 259.7,418.6 260.0,418.8 260.3,418.8 260.7,418.4 261.0,418.1 261.3,418.3 261.6,418.1 262.0,416.9 262.3,416.2 262.6,416.5 263.0,416.3 263.3,416.1 263.6,416.0 264.0,415.6 264.3,414.8 264.6,414.2 264.9,414.2 265.3,413.5 265.6,412.8 265.9,413.0 266.3,412.8 266.6,411.8 266.9,411.9 267.3,412.5 267.6,412.7 267.9,413.5 268.2,414.1 268.6,414.3 268.9,414.9 269.2,415.5 269.6,415.8 269.9,416.2 270.2,416.6 270.6,416.8 270.9,417.0 271.2,417.3 271.5,417.5 271.9,417.3 272.2,418.1 272.5,418.5 272.9,418.3 273.2,418.4 273.5,418.5 273.9,418.6 274.2,418.6 274.5,418.5 274.8,418.7 275.2,418.8 275.5,418.9 275.8,418.6 276.2,418.1 276.5,418.8 276.8,419.1 277.2,418.7 277.5,418.8 277.8,418.7 278.1,418.7 278.5,418.4 278.8,418.2 279.1,418.6 279.5,418.9 279.8,419.3 280.1,418.9 280.5,419.1 280.8,419.2 281.1,418.3 281.4,417.8 281.8,418.7 282.1,419.3 282.4,418.8 282.8,418.6 283.1,418.5 283.4,419.0 283.8,419.3 284.1,419.4 284.4,419.3 284.7,418.3 285.1,418.6 285.4,419.1 285.7,418.8 286.1,419.3 286.4,419.3 286.7,419.2 287.1,419.2 287.4,418.7 287.7,418.9 288.0,418.9 288.4,419.1 288.7,419.5 289.0,419.2 289.4,419.1 289.7,419.2 290.0,419.0 290.4,419.0 290.7,419.0 291.0,419.0 291.3,418.8 291.7,418.6 292.0,419.0 292.3,418.7 292.7,418.5 293.0,418.6 293.3,418.9 293.7,418.8 294.0,418.7 294.3,419.3 294.6,419.3 295.0,418.5 295.3,418.4 295.6,419.1 296.0,418.9 296.3,419.0 296.6,419.2 297.0,419.0 297.3,418.8 297.6,418.5 297.9,418.5 298.3,418.6 298.6,418.8 298.9,418.9 299.3,418.7 299.6,418.6 299.9,418.8 300.3,418.3 300.6,418.0 300.9,418.2 301.2,418.3 301.6,418.5 301.9,418.4 302.2,418.3 302.6,418.5 302.9,418.8 303.2,418.2 303.6,418.1 303.9,418.2 304.2,418.6 304.5,418.8 304.9,418.2 305.2,418.4 305.5,418.4 305.9,418.3 306.2,418.8 306.5,418.8 306.9,418.6 307.2,418.8 307.5,418.4 307.8,418.5 308.2,418.9 308.5,418.7 308.8,418.3 309.2,418.2 309.5,418.5 309.8,418.2 310.2,418.6 310.5,418.9 310.8,418.2 311.1,418.1 311.5,418.3 311.8,418.5 312.1,418.4 312.5,418.4 312.8,418.6 313.1,418.0 313.5,417.4 313.8,417.5 314.1,417.6 314.4,418.1 314.8,418.2 315.1,417.5 315.4,417.1 315.8,417.5 316.1,417.3 316.4,416.9 316.8,416.9 317.1,416.2 317.4,416.0 317.7,416.2 318.1,415.7 318.4,415.0 318.7,414.1 319.1,413.7 319.4,413.4 319.7,413.0 320.1,412.5 320.4,412.6 320.7,412.6 321.0,411.9 321.4,411.5 321.7,412.3 322.0,412.8 322.4,413.1 322.7,414.1 323.0,414.1 323.4,414.1 323.7,414.6 324.0,414.8 324.3,414.9 324.7,415.2 325.0,415.9 325.3,416.0 325.7,415.8 326.0,415.8 326.3,415.4 326.7,415.7 327.0,415.3 327.3,414.5 327.6,414.8 328.0,414.1 328.3,413.6 328.6,413.6 329.0,412.4 329.3,411.3 329.6,410.4 330.0,409.5 330.3,408.9 330.6,407.9 330.9,407.6 331.3,407.2 331.6,407.0 331.9,407.2 332.3,407.0 332.6,407.7 332.9,408.9 333.3,409.4 333.6,410.6 333.9,411.9 334.2,412.5 334.6,413.0 334.9,413.6 335.2,414.5 335.6,414.8 335.9,415.2 336.2,415.1 336.6,415.6 336.9,416.1 337.2,415.3 337.5,415.5 337.9,415.9 338.2,416.3 338.5,416.3 338.9,416.2 339.2,416.2 339.5,416.6 339.9,416.9 340.2,416.8 340.5,416.3 340.8,415.8 341.2,415.7 341.5,415.5 341.8,415.7 342.2,414.9 342.5,414.2 342.8,414.0 343.2,413.6 343.5,413.4 343.8,413.3 344.1,412.8 344.5,412.7 344.8,413.0 345.1,412.3 345.5,411.9 345.8,412.0 346.1,412.0 346.5,411.7 346.8,411.9 347.1,412.1 347.4,411.9 347.8,411.3 348.1,411.1 348.4,410.8 348.8,409.1 349.1,407.0 349.4,405.3 349.8,402.6 350.1,399.4 350.4,396.3 350.7,392.6 351.1,389.2 351.4,386.1 351.7,384.0 352.1,383.2 352.4,384.6 352.7,387.4 353.1,390.1 353.4,393.3 353.7,396.9 354.0,400.7 354.4,404.0 354.7,406.8 355.0,408.7 355.4,410.6 355.7,412.1 356.0,412.9 356.4,413.5 356.7,414.4 357.0,415.3 357.3,415.1 357.7,415.4 358.0,416.0 358.3,415.4 358.7,414.7 359.0,414.4 359.3,414.4 359.7,413.8 360.0,412.7 360.3,412.3 360.6,411.4 361.0,410.9 361.3,411.4 361.6,411.3 362.0,411.4 362.3,411.9 362.6,412.4 363.0,413.0 363.3,413.2 363.6,413.8 363.9,414.5 364.3,415.3 364.6,416.1 364.9,416.2 365.3,415.8 365.6,415.7 365.9,416.0 366.3,416.6 366.6,416.8 366.9,416.5 367.2,416.2 367.6,416.5 367.9,416.8 368.2,416.5 368.6,416.5 368.9,416.9 369.2,416.8 369.6,416.8 369.9,417.1 370.2,416.7 370.5,416.6 370.9,416.5 371.2,416.1 371.5,416.0 371.9,415.9 372.2,416.1 372.5,416.3 372.9,416.2 373.2,416.4 373.5,415.4 373.8,415.2 374.2,415.5 374.5,415.4 374.8,415.6 375.2,415.5 375.5,415.9 375.8,415.4 376.2,414.9 376.5,415.2 376.8,414.5 377.1,414.4 377.5,414.5 377.8,413.6 378.1,412.7 378.5,412.6 378.8,411.2 379.1,408.0 379.5,405.5 379.8,402.9 380.1,399.6 380.4,396.0 380.8,392.1 381.1,388.8 381.4,386.1 381.8,383.9 382.1,383.5 382.4,384.9 382.8,387.7 383.1,391.2 383.4,394.6 383.7,398.2 384.1,401.8 384.4,405.4 384.7,407.8 385.1,409.4 385.4,411.3 385.7,412.1 386.1,412.8 386.4,413.7 386.7,413.9 387.0,414.2 387.4,414.7 387.7,415.0 388.0,414.7 388.4,414.5 388.7,415.2 389.0,414.9 389.4,414.4 389.7,414.9 390.0,414.9 390.3,414.9 390.7,415.0 391.0,415.1 391.3,415.4 391.7,415.3 392.0,415.1 392.3,415.3 392.7,415.2 393.0,415.3 393.3,415.2 393.6,415.5 394.0,416.3 394.3,416.6 394.6,416.5 395.0,415.9 395.3,416.0 395.6,416.1 396.0,415.7 396.3,416.4 396.6,416.1 396.9,415.8 397.3,416.2 397.6,415.9 397.9,415.6 398.3,415.7 398.6,415.8 398.9,415.9 399.3,416.3 399.6,415.6 399.9,415.1 400.2,415.3 400.6,415.1 400.9,414.8 401.2,415.0 401.6,415.1 401.9,414.6 402.2,414.3 402.6,414.6 402.9,414.2 403.2,413.5 403.5,413.9 403.9,414.1 404.2,412.9 404.5,411.6 404.9,410.9 405.2,409.4 405.5,404.9 405.9,391.3 406.2,364.3 406.5,348.9 406.8,334.7 407.2,319.2 407.5,301.4 407.8,287.7 408.2,282.9 408.5,278.8 408.8,275.4 409.2,271.4 409.5,273.0 409.8,277.0 410.1,281.7 410.5,285.8 410.8,290.3 411.1,310.8 411.5,327.9 411.8,342.5 412.1,356.4 412.5,372.0 412.8,401.0 413.1,408.3 413.4,410.3 413.8,411.6 414.1,412.0 414.4,412.2 414.8,412.7 415.1,412.6 415.4,412.8 415.8,413.5 416.1,414.2 416.4,413.9 416.7,413.5 417.1,413.8 417.4,414.1 417.7,414.6 418.1,414.4 418.4,413.7 418.7,414.1 419.1,414.6 419.4,414.9 419.7,415.3 420.0,416.0 420.4,415.9 420.7,415.5 421.0,415.3 421.4,415.7 421.7,416.5 422.0,416.6 422.4,416.8 422.7,417.1 423.0,417.4 423.3,417.6 423.7,417.1 424.0,417.0 424.3,417.0 424.7,416.9 425.0,417.5 425.3,418.3 425.7,418.8 426.0,418.7 426.3,418.2 426.6,418.1 427.0,418.5 427.3,418.9 427.6,418.6 428.0,418.7 428.3,419.0 428.6,418.4 429.0,418.5 429.3,419.0 429.6,418.8 429.9,418.7 430.3,419.3 430.6,419.8 430.9,419.9 431.3,419.2 431.6,418.6 431.9,419.2 432.3,419.1 432.6,418.7 432.9,418.6 433.2,419.2 433.6,420.0 433.9,419.6 434.2,419.4 434.6,419.2 434.9,419.0 435.2,419.3 435.6,419.2 435.9,419.4 436.2,419.4 436.5,418.9 436.9,419.3 437.2,419.5 437.5,419.3 437.9,419.3 438.2,418.6 438.5,418.8 438.9,419.0 439.2,419.2 439.5,419.1 439.8,418.4 440.2,418.9 440.5,419.4 440.8,419.4 441.2,419.0 441.5,419.2 441.8,419.1 442.2,418.8 442.5,418.9 442.8,419.0 443.1,419.4 443.5,419.3 443.8,419.2 444.1,419.6 444.5,419.0 444.8,418.5 445.1,418.9 445.5,419.0 445.8,419.2 446.1,418.9 446.4,419.0 446.8,419.6 447.1,419.4 447.4,418.9 447.8,418.9 448.1,419.1 448.4,419.3 448.8,419.4 449.1,419.4 449.4,419.3 449.7,419.5 450.1,419.0 450.4,418.4 450.7,419.1 451.1,419.0 451.4,419.1 451.7,419.1 452.1,419.0 452.4,419.1 452.7,418.9 453.0,419.2 453.4,419.3 453.7,419.1 454.0,419.7 454.4,419.8 454.7,419.0 455.0,419.2 455.4,419.7 455.7,419.8 456.0,420.0 456.3,419.5 456.7,419.3 457.0,419.8 457.3,419.5 457.7,419.3 458.0,418.6 458.3,418.4 458.7,419.6 459.0,419.3 459.3,418.7 459.6,419.2 460.0,419.5 460.3,419.8 460.6,419.2 461.0,418.8 461.3,419.5 461.6,419.1 462.0,418.9 462.3,419.7 462.6,420.0 462.9,419.7 463.3,418.7 463.6,418.6 463.9,419.3 464.3,419.3 464.6,419.1 464.9,420.0 465.3,420.0 465.6,418.9 465.9,419.1 466.2,419.2 466.6,419.1 466.9,419.1 467.2,419.4 467.6,419.5 467.9,419.0 468.2,418.9 468.6,419.3 468.9,419.2 469.2,419.4 469.5,419.7 469.9,419.2 470.2,419.0 470.5,419.8 470.9,420.1 471.2,419.6 471.5,419.4 471.9,419.3 472.2,418.7 472.5,419.0 472.8,419.4 473.2,419.4 473.5,419.3 473.8,419.3 474.2,419.1 474.5,419.2 474.8,419.5 475.2,419.3 475.5,419.3 475.8,418.9 476.1,418.5 476.5,419.3 476.8,419.9 477.1,419.6 477.5,419.1 477.8,418.7 478.1,418.7 478.5,419.2 478.8,418.7 479.1,418.5 479.4,418.9 479.8,418.8 480.1,418.3 480.4,418.2 480.8,417.9 481.1,418.0 481.4,418.2 481.8,417.4 482.1,417.6 482.4,418.0 482.7,417.4 483.1,417.7 483.4,417.6 483.7,417.2 484.1,417.8 484.4,417.3 484.7,417.3 485.1,417.9 485.4,417.7 485.7,417.5 486.0,417.6 486.4,417.6 486.7,417.2 487.0,417.2 487.4,417.1 487.7,417.5 488.0,417.3 488.4,416.6 488.7,416.8 489.0,417.0 489.3,417.4 489.7,417.7 490.0,417.5 490.3,417.4 490.7,417.7 491.0,418.1 491.3,418.5 491.7,418.3 492.0,417.8 492.3,418.6 492.6,419.4 493.0,419.0 493.3,419.0 493.6,418.8 494.0,418.5 494.3,418.6 494.6,418.9 495.0,418.8 495.3,418.5 495.6,418.6 495.9,419.1 496.3,419.1 496.6,419.0 496.9,418.6 497.3,418.5 497.6,419.0 497.9,418.8 498.3,418.4 498.6,418.8 498.9,419.0 499.2,419.1 499.6,419.1 499.9,419.2 500.2,419.2 500.6,418.7 500.9,418.7 501.2,419.0 501.6,419.1 501.9,419.1 502.2,418.8 502.5,419.0 502.9,419.4 503.2,419.3 503.5,419.1 503.9,418.9 504.2,418.8 504.5,418.8 504.9,418.6 505.2,418.4 505.5,418.3 505.8,418.9 506.2,419.0 506.5,418.4 506.8,418.4 507.2,418.6 507.5,418.8 507.8,418.6 508.2,418.1 508.5,418.6 508.8,418.7 509.1,418.7 509.5,419.2 509.8,419.5 510.1,419.9 510.5,419.7 510.8,419.1 511.1,418.7 511.5,418.7 511.8,419.0 512.1,418.7 512.4,418.7 512.8,419.2 513.1,419.4 513.4,419.3 513.8,419.2 514.1,419.1 514.4,418.9 514.8,418.7 515.1,418.8 515.4,419.6 515.7,419.6 516.1,419.4 516.4,419.1 516.7,419.3 517.1,419.4 517.4,419.2 517.7,419.5 518.1,419.0 518.4,419.2 518.7,419.5 519.0,419.3 519.4,419.4 519.7,419.3 520.0,419.1 520.4,419.2 520.7,419.2 521.0,419.1 521.4,419.1 521.7,418.7 522.0,418.7 522.3,418.9 522.7,419.1 523.0,419.5 523.3,419.1 523.7,418.8 524.0,418.7 524.3,418.4 524.7,418.8 525.0,418.5 525.3,418.2 525.6,418.8 526.0,419.3 526.3,419.2 526.6,419.0 527.0,419.5 527.3,419.7 527.6,419.0 528.0,419.4 528.3,419.8 528.6,419.3 528.9,419.4 529.3,419.5 529.6,419.4 529.9,419.4 530.3,419.0 530.6,419.2 530.9,419.5 531.3,419.0 531.6,418.7 531.9,419.2 532.2,419.3 532.6,419.1 532.9,419.3 533.2,419.4 533.6,418.8 533.9,418.9 534.2,419.5 534.6,419.6 534.9,419.8 535.2,419.6 535.5,419.4 535.9,419.7 536.2,419.4 536.5,419.5 536.9,420.0 537.2,419.7 537.5,419.8 537.9,419.8 538.2,419.1 538.5,419.1 538.8,419.4 539.2,419.2 539.5,419.2 539.8,419.4 540.2,419.5 540.5,419.0 540.8,418.9 541.2,419.3 541.5,419.0 541.8,418.7 542.1,418.7 542.5,418.7 542.8,418.8 543.1,419.2 543.5,419.6 543.8,419.6 544.1,419.3 544.5,419.3 544.8,419.3 545.1,418.9 545.4,418.7 545.8,418.8 546.1,418.5 546.4,418.2 546.8,418.1 547.1,418.0 547.4,417.7 547.8,417.7 548.1,417.8 548.4,417.3 548.7,417.0 549.1,416.4 549.4,415.3 549.7,413.8 550.1,411.8 550.4,409.1 550.7,406.3 551.1,403.9 551.4,400.1 551.7,395.6 552.0,392.2 552.4,387.9 552.7,384.4 553.0,382.6 553.4,381.5 553.7,382.3 554.0,384.4 554.4,386.9 554.7,390.9 555.0,395.2 555.3,399.0 555.7,402.7 556.0,407.0 556.3,410.0 556.7,411.8 557.0,413.5 557.3,414.9 557.7,416.0 558.0,416.6 558.3,416.8 558.6,416.9 559.0,417.3 559.3,417.9 559.6,418.8 560.0,419.1 560.3,419.1 560.6,419.0 561.0,418.6 561.3,418.2 561.6,418.3 561.9,418.2 562.3,418.1 562.6,419.1 562.9,419.3 563.3,419.2 563.6,419.0 563.9,418.4 564.3,418.4 564.6,418.7 564.9,419.2 565.2,419.8 565.6,419.3 565.9,418.7 566.2,418.9 566.6,418.9 566.9,418.6 567.2,418.8 567.6,419.2 567.9,419.3 568.2,418.9 568.5,418.8 568.9,418.6 569.2,418.9 569.5,419.1 569.9,418.8 570.2,418.9 570.5,418.9 570.9,418.7 571.2,418.4 571.5,419.1 571.8,419.7 572.2,419.3 572.5,419.8 572.8,419.7 573.2,419.3 573.5,419.3 573.8,419.5 574.2,419.6 574.5,419.4 574.8,419.2 575.1,419.2 575.5,419.6 575.8,419.0 576.1,418.7 576.5,419.1 576.8,419.0 577.1,418.6 577.5,418.9 577.8,419.2 578.1,418.9 578.4,419.0 578.8,418.7 579.1,418.7 579.4,418.6 579.8,418.5 580.1,418.9 580.4,419.1 580.8,419.2 581.1,419.2 581.4,419.7 581.7,419.9 582.1,419.0 582.4,418.8 582.7,418.9 583.1,419.0 583.4,419.0 583.7,418.9 584.1,419.4 584.4,419.7 584.7,419.2 585.0,419.1 585.4,419.1 585.7,419.5 586.0,419.7 586.4,419.6 586.7,418.7 587.0,418.5 587.4,419.6 587.7,420.0 588.0,419.7 588.3,418.8 588.7,419.0 589.0,419.2 589.3,418.6 589.7,418.6 590.0,419.3 590.3,419.8 590.7,419.7 591.0,419.2 591.3,419.6 591.6,419.6 592.0,418.9 592.3,418.9 592.6,419.2 593.0,419.7 593.3,419.6 593.6,419.5 594.0,419.2 594.3,419.3 594.6,418.8 594.9,419.0 595.3,419.7 595.6,419.4 595.9,419.1 596.3,419.3 596.6,419.7 596.9,419.7 597.3,419.3 597.6,419.1 597.9,418.7 598.2,418.7 598.6,419.1 598.9,419.2 599.2,419.2 599.6,419.4 599.9,419.5 600.2,419.4 600.6,419.4 600.9,419.4 601.2,419.2 601.5,419.3 601.9,418.9 602.2,419.1 602.5,419.2 602.9,419.0 603.2,419.4 603.5,419.4 603.9,419.4 604.2,418.9 604.5,419.1 604.8,419.4 605.2,419.2 605.5,419.1 605.8,419.3 606.2,419.5 606.5,419.3 606.8,418.6 607.2,418.4 607.5,418.8 607.8,419.3 608.1,419.3 608.5,418.8 608.8,418.9 609.1,418.8 609.5,418.3 609.8,418.3 610.1,417.7 610.5,417.8 610.8,418.0 611.1,417.5 611.4,416.9 611.8,416.7 612.1,417.1 612.4,416.7 612.8,415.8 613.1,415.9 613.4,415.6 613.8,414.9 614.1,415.1 614.4,415.6 614.7,415.7 615.1,415.9 615.4,416.3 615.7,416.6 616.1,416.7 616.4,416.8 616.7,417.4 617.1,418.0 617.4,418.3 617.7,418.4 618.0,417.5 618.4,417.2 618.7,418.1 619.0,418.5 619.4,418.3 619.7,418.7 620.0,419.2 620.4,418.8 620.7,418.8 621.0,418.9 621.3,418.7 621.7,419.0 622.0,419.1 622.3,418.6 622.7,418.6 623.0,418.9 623.3,418.8 623.7,419.2 624.0,419.2 624.3,419.3 624.6,419.8 625.0,419.1 625.3,419.0 625.6,419.5 626.0,419.4 626.3,418.8 626.6,418.9 627.0,419.7 627.3,419.3 627.6,419.0 627.9,419.3 628.3,419.2 628.6,419.1 628.9,419.0 629.3,419.4 629.6,419.6 629.9,419.1 630.3,419.3 630.6,419.3 630.9,419.0 631.2,419.4 631.6,419.5 631.9,419.6 632.2,419.5 632.6,419.4 632.9,419.4 633.2,419.5 633.6,419.8 633.9,419.5 634.2,419.3 634.5,419.5 634.9,419.3 635.2,419.0 635.5,419.0 635.9,418.8 636.2,418.3 636.5,418.8 636.9,418.7 637.2,418.8 637.5,419.1 637.8,418.7 638.2,418.7 638.5,418.7 638.8,418.6 639.2,418.4 639.5,418.4 639.8,418.7 640.2,419.0 640.5,419.1 640.8,418.9 641.1,418.6 641.5,418.1 641.8,418.4 642.1,419.1 642.5,418.9 642.8,418.9 643.1,419.4 643.5,419.3 643.8,419.3 644.1,419.4 644.4,418.7 644.8,418.5 645.1,418.9 645.4,419.2 645.8,419.1 646.1,418.8 646.4,418.8 646.8,418.9 647.1,419.2 647.4,419.5 647.7,419.6 648.1,419.5 648.4,419.3 648.7,419.3 649.1,419.3 649.4,419.6 649.7,419.0 650.1,418.6 650.4,419.3 650.7,419.6 651.0,419.2 651.4,419.0 651.7,419.5 652.0,419.3 652.4,418.6 652.7,418.7 653.0,418.8 653.4,419.1 653.7,419.2 654.0,419.5 654.3,419.7 654.7,419.1 655.0,418.9 655.3,418.8 655.7,419.0 656.0,419.7 656.3,419.5 656.7,419.4 657.0,419.2 657.3,419.1 657.6,419.9 658.0,419.4 658.3,419.2 658.6,419.8 659.0,419.0 659.3,418.4 659.6,418.6 660.0,419.2 660.3,419.3 660.6,419.0 660.9,419.3 661.3,419.4 661.6,419.2 661.9,419.1 662.3,419.3 662.6,419.2 662.9,419.4 663.3,419.5 663.6,418.8 663.9,419.1 664.2,419.4 664.6,418.7 664.9,418.6 665.2,418.8 665.6,418.5 665.9,419.0 666.2,419.0 666.6,418.8 666.9,418.9 667.2,419.3 667.5,419.4 667.9,418.6 668.2,418.3 668.5,418.3 668.9,418.6 669.2,418.7 669.5,418.9 669.9,418.8 670.2,418.5 670.5,418.4 670.8,418.2 671.2,418.0 671.5,417.9 671.8,417.5 672.2,416.6 672.5,415.1 672.8,414.0 673.2,413.2 673.5,411.1 673.8,409.0 674.1,407.5 674.5,405.2 674.8,402.3 675.1,400.6 675.5,399.1 675.8,397.0 676.1,396.2 676.5,396.6 676.8,396.8 677.1,398.7 677.4,400.8 677.8,402.4 678.1,404.8 678.4,407.2 678.8,409.4 679.1,411.3 679.4,413.5 679.8,414.9 680.1,415.7 680.4,416.8 680.7,417.3 681.1,417.6 681.4,418.1 681.7,418.1 682.1,418.4 682.4,418.5 682.7,418.6 683.1,418.4 683.4,418.3 683.7,418.7 684.0,418.9 684.4,418.5 684.7,418.4 685.0,418.5 685.4,418.7 685.7,419.0 686.0,419.0 686.4,418.8 686.7,418.8 687.0,418.7 687.3,418.0 687.7,418.3 688.0,418.6 688.3,418.4 688.7,418.5 689.0,418.9 689.3,418.9 689.7,418.9 690.0,419.0 690.3,418.7 690.6,418.4 691.0,418.8 691.3,419.3 691.6,419.4 692.0,419.8 692.3,419.7 692.6,419.3 693.0,419.2 693.3,419.1 693.6,419.1 693.9,418.8 694.3,419.4 694.6,419.2 694.9,418.7 695.3,419.3 695.6,419.3 695.9,418.9 696.3,418.9 696.6,419.0 696.9,418.8 697.2,418.9 697.6,419.0 697.9,418.9 698.2,419.2 698.6,419.0 698.9,419.0 699.2,419.1 699.6,419.1 699.9,419.3 700.2,419.2 700.5,418.9 700.9,418.7 701.2,418.7 701.5,418.9 701.9,419.3 702.2,419.5 702.5,419.2 702.9,419.0 703.2,418.7 703.5,418.1 703.8,418.3 704.2,418.6 704.5,418.4 704.8,418.1 705.2,418.6 705.5,418.8 705.8,418.2 706.2,419.0 706.5,419.4 706.8,418.7 707.1,418.7 707.5,418.6 707.8,418.7 708.1,418.5 708.5,417.7 708.8,417.9 709.1,418.0 709.5,418.3 709.8,418.0 710.1,417.4 710.4,417.8 710.8,418.0 711.1,418.2 711.4,418.1 711.8,418.4 712.1,418.1 712.4,417.7 712.8,418.0 713.1,417.9 713.4,417.7 713.7,417.7 714.1,417.7 714.4,417.6 714.7,417.7 715.1,417.7 715.4,418.0 715.7,418.1 716.1,418.6 716.4,419.5 716.7,419.3 717.0,418.9 717.4,418.5 717.7,418.9 718.0,419.2 718.4,419.0 718.7,418.8 719.0,419.0 719.4,419.0 719.7,418.8 720.0,418.6 720.3,418.4 720.7,419.0 721.0,419.0 721.3,418.8 721.7,419.1 722.0,419.2 722.3,419.4 722.7,418.8 723.0,418.6 723.3,419.3 723.6,418.8 724.0,418.4 724.3,419.0 724.6,419.0 725.0,418.7 725.3,419.1 725.6,419.2 726.0,419.1 726.3,419.0 726.6,419.0 726.9,419.4 727.3,419.4 727.6,418.6 727.9,418.7 728.3,419.3 728.6,418.9 728.9,419.2 729.3,419.0 729.6,419.1 729.9,419.4 730.2,419.3 730.6,419.5 730.9,418.7 731.2,418.8 731.6,419.2 731.9,419.3 732.2,419.5 732.6,419.1 732.9,418.9 733.2,419.3 733.5,419.1 733.9,418.7 734.2,418.5 734.5,419.0 734.9,419.4 735.2,419.0 735.5,418.4 735.9,418.9 736.2,418.9 736.5,418.6 736.8,418.8 737.2,418.3 737.5,418.5 737.8,418.9 738.2,419.2 738.5,419.8 738.8,419.3 739.2,419.0 739.5,419.3 739.8,418.9 740.1,418.4 740.5,418.9 740.8,419.0 741.1,418.5 741.5,418.5 741.8,418.4 742.1,418.3 742.5,418.4 742.8,418.8 743.1,418.5 743.4,417.7 743.8,417.7 744.1,417.6 744.4,417.2 744.8,417.7 745.1,418.1 745.4,417.5 745.8,416.1 746.1,415.4 746.4,414.1 746.7,412.3 747.1,411.4 747.4,409.4 747.7,405.8 748.1,401.8 748.4,398.4 748.7,394.6 749.1,389.8 749.4,385.6 749.7,381.8 750.0,378.2 750.4,376.8 750.7,376.9 751.0,377.7 751.4,380.2 751.7,384.1 752.0,388.4 752.4,392.9 752.7,397.3 753.0,401.5 753.3,405.0 753.7,407.6 754.0,409.8 754.3,411.7 754.7,413.9 755.0,416.1 755.3,416.5 755.7,416.1 756.0,417.0 756.3,417.7 756.6,417.7 757.0,417.7 757.3,417.7 757.6,417.7 758.0,418.4 758.3,419.0 758.6,418.8 759.0,418.4 759.3,418.6 759.6,419.0 759.9,419.0 760.3,418.6 760.6,418.6 760.9,419.1 761.3,418.8 761.6,418.3 761.9,418.6 762.3,419.1 762.6,419.2 762.9,419.1 763.2,418.8 763.6,418.7 763.9,418.6 764.2,418.5 764.6,418.6 764.9,418.7 765.2,419.1 765.6,419.0 765.9,418.7 766.2,418.9 766.5,419.3 766.9,419.5 767.2,419.0 767.5,419.2 767.9,419.3 768.2,419.0 768.5,419.3 768.9,419.6 769.2,419.7 769.5,419.8 769.8,419.6 770.2,419.3 770.5,418.9 770.8,419.0 771.2,419.3 771.5,419.3 771.8,419.3 772.2,419.0 772.5,418.7 772.8,419.1 773.1,419.6 773.5,419.4 773.8,419.2"/>
<line x1="409.3" y1="276" x2="409.3" y2="331" stroke="#ff0000" stroke-width="2.6"/>
<polygon points="407.3,331 411.3,331 411.9,396 406.7,396" fill="#ff0000"/>
<polygon points="408.3,336 409.9,336 410.0,398 407.9,398" fill="#00ff00"/>
<polygon points="410.1,340 410.8,340 411.0,398 410.2,398" fill="#0000ff"/>
</g>
<g stroke="#000" stroke-width="1.8" fill="none">
<line x1="65.45" y1="16.6" x2="65.45" y2="539.3"/>
<line x1="64.55" y1="539.3" x2="775.85" y2="539.3"/>
<line x1="65.5" y1="539.3" x2="65.5" y2="549.7"/>
<line x1="129.9" y1="539.3" x2="129.9" y2="549.7"/>
<line x1="194.4" y1="539.3" x2="194.4" y2="549.7"/>
<line x1="258.9" y1="539.3" x2="258.9" y2="549.7"/>
<line x1="323.4" y1="539.3" x2="323.4" y2="549.7"/>
<line x1="387.9" y1="539.3" x2="387.9" y2="549.7"/>
<line x1="452.4" y1="539.3" x2="452.4" y2="549.7"/>
<line x1="517.0" y1="539.3" x2="517.0" y2="549.7"/>
<line x1="581.5" y1="539.3" x2="581.5" y2="549.7"/>
<line x1="646.0" y1="539.3" x2="646.0" y2="549.7"/>
<line x1="710.5" y1="539.3" x2="710.5" y2="549.7"/>
<line x1="775.0" y1="539.3" x2="775.0" y2="549.7"/>
</g>
<g font-family="'Liberation Sans', sans-serif" font-size="22.6" text-anchor="middle" fill="#000">
<text x="65.0" y="573.9">10</text>
<text x="129.5" y="573.9">15</text>
<text x="194.0" y="573.9">20</text>
<text x="258.6" y="573.9">25</text>
<text x="323.1" y="573.9">30</text>
<text x="387.6" y="573.9">35</text>
<text x="452.1" y="573.9">40</text>
<text x="516.6" y="573.9">45</text>
<text x="581.1" y="573.9">50</text>
<text x="645.6" y="573.9">55</text>
<text x="710.1" y="573.9">60</text>
<text x="774.6" y="573.9">65</text>
</g>
<text font-family="'Liberation Sans', sans-serif" font-size="29.3" fill="#000" text-anchor="middle" transform="translate(24.3,276.8) rotate(-90)" textLength="188.5" lengthAdjust="spacingAndGlyphs">Intensity (a.u.)</text>
<text font-family="'Liberation Sans', sans-serif" font-size="30.3" fill="#000" x="347.4" y="620.5" textLength="145.6" lengthAdjust="spacingAndGlyphs">2<tspan font-family="'Liberation Serif', serif">θ</tspan>(degree)</text>
<circle cx="409" cy="183.5" r="5.2" fill="#ff0000"/>
<circle cx="352.4" cy="375.6" r="5.2" fill="#ff0000"/>
<circle cx="383.6" cy="376.6" r="5.2" fill="#ff0000"/>
<circle cx="553.4" cy="367.9" r="5.2" fill="#ff0000"/>
<circle cx="677.6" cy="383.6" r="5.2" fill="#ff0000"/>
<circle cx="751.3" cy="368.0" r="5.2" fill="#ff0000"/>
<circle cx="553.4" cy="449.4" r="5.2" fill="#ff0000"/>
<circle cx="751.4" cy="453.4" r="5.2" fill="#ff0000"/>
<circle cx="381.4" cy="500.4" r="5.2" fill="#ff0000"/>
<circle cx="553.4" cy="493.6" r="5.2" fill="#ff0000"/>
<circle cx="751.4" cy="501" r="5.2" fill="#ff0000"/>
<rect x="308.0" y="440.5" width="10.4" height="10.4" fill="#08aeef"/>
<rect x="309.2" y="493.8" width="10.4" height="10.4" fill="#08aeef"/>
<rect x="560.0" y="447.8" width="10.4" height="10.4" fill="#08aeef"/>
<rect x="560.0" y="497.6" width="10.4" height="10.4" fill="#08aeef"/>
<polygon points="95.8,15.6 108.2,15.6 102.0,3.6" fill="#808080"/>
<polygon points="76.1,391.9 88.3,391.9 82.2,380.2" fill="#808080"/>
<polygon points="94.9,414.5 107.1,414.5 101.0,402.7" fill="#808080"/>
<polygon points="76.1,498.1 88.3,498.1 82.2,486.5" fill="#808080"/>
<polygon points="479.4,411.6 491.8,411.6 485.6,400.0" fill="#808080"/>
<polygon points="479.4,510.4 491.8,510.4 485.6,499.0" fill="#808080"/>
<polygon points="179.4,441.0 181.4,447.3 188.0,447.3 182.7,451.1 184.7,457.4 179.4,453.5 174.1,457.4 176.1,451.1 170.8,447.3 177.4,447.3" fill="#000"/>
<polygon points="429.0,412.0 431.0,418.2 437.5,418.2 432.3,422.0 434.3,428.2 429.0,424.4 423.7,428.2 425.7,422.0 420.5,418.2 427.0,418.2" fill="#000"/>
<polygon points="594.6,434.4 596.6,440.5 603.1,440.5 597.8,444.4 599.8,450.5 594.6,446.7 589.4,450.5 591.4,444.4 586.1,440.5 592.6,440.5" fill="#000"/>
<polygon points="695.4,426.6 697.4,432.7 703.9,432.7 698.6,436.6 700.6,442.7 695.4,438.9 690.2,442.7 692.2,436.6 686.9,432.7 693.4,432.7" fill="#000"/>
<polygon points="738.6,441.0 740.6,447.2 747.2,447.2 741.9,451.1 743.9,457.3 738.6,453.5 733.3,457.3 735.3,451.1 730.0,447.2 736.6,447.2" fill="#000"/>
<g font-family="'Liberation Sans', sans-serif" fill="#000" stroke="#000" stroke-width="0.25">
<text x="786.1" y="424.5" font-size="24.3" textLength="43.6" lengthAdjust="spacingAndGlyphs">Extr</text>
<text x="785.8" y="475.0" font-size="24.3" textLength="63.4" lengthAdjust="spacingAndGlyphs">HIPed</text>
<text x="787.7" y="518.6" font-size="24.3" textLength="29.8" lengthAdjust="spacingAndGlyphs">AB</text>
</g>
<rect x="674.6" y="11.45" width="135.9" height="178" fill="#fff" stroke="#505050" stroke-width="1.15"/>
<circle cx="695" cy="27.6" r="5.5" fill="#ff0000"/>
<rect x="689.6" y="66.5" width="10.6" height="10.6" fill="#08aeef"/>
<polygon points="688.6,123.0 701.4,123.0 695.0,111.0" fill="#a6a6a6"/>
<polygon points="694.0,155.6 696.0,161.7 702.5,161.7 697.2,165.6 699.2,171.7 694.0,167.9 688.8,171.7 690.8,165.6 685.5,161.7 692.0,161.7" fill="#000"/>
<g font-family="'Liberation Sans', sans-serif" fill="#000" font-size="18.6" stroke="#000" stroke-width="0.2">
<text x="709.2" y="35.8" textLength="48.2" lengthAdjust="spacingAndGlyphs">α-Mg</text>
<text x="709.3" y="81.2" textLength="39.4" lengthAdjust="spacingAndGlyphs">Y<tspan dy="5.2" font-size="12.8">2</tspan><tspan dy="-5.2" font-size="18.6">&#8203;</tspan>O<tspan dy="5.2" font-size="12.8">3</tspan><tspan dy="-5.2" font-size="18.6">&#8203;</tspan></text>
<text x="709.3" y="126.7" textLength="89" lengthAdjust="spacingAndGlyphs">Mg<tspan dy="5.2" font-size="12.8">3</tspan><tspan dy="-5.2" font-size="18.6">&#8203;</tspan>(PO<tspan dy="5.2" font-size="12.8">4</tspan><tspan dy="-5.2" font-size="18.6">&#8203;</tspan>)<tspan dy="5.2" font-size="12.8">2</tspan><tspan dy="-5.2" font-size="18.6">&#8203;</tspan></text>
<text x="709.3" y="172.1" textLength="76" lengthAdjust="spacingAndGlyphs">Mg(OH)<tspan dy="5.2" font-size="12.8">2</tspan><tspan dy="-5.2" font-size="18.6">&#8203;</tspan></text>
</g>
</svg>
</body></html>
